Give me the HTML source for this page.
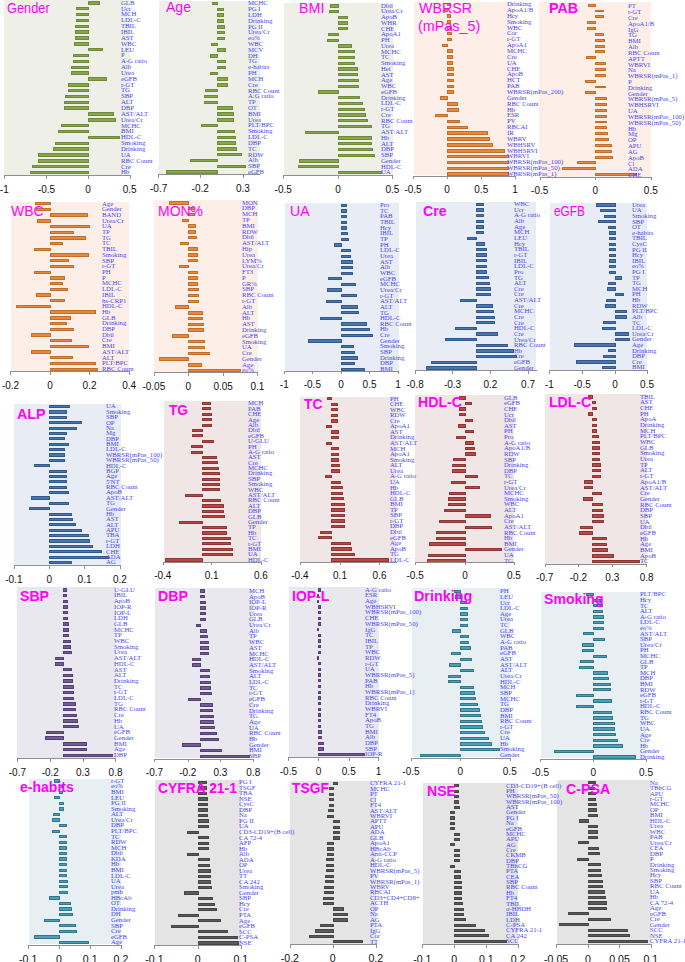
<!DOCTYPE html><html><head><meta charset="utf-8"><style>
html,body{margin:0;padding:0;background:#fff;width:685px;height:962px;overflow:hidden;position:relative}
div{position:absolute;box-sizing:border-box}
.bar{border-radius:0.6px}
.ax{background:#8f8f8f}
.tk{background:#8f8f8f;width:1px}
.tl{font-family:"Liberation Sans",sans-serif;font-size:10px;color:#111;white-space:nowrap;line-height:1;transform:translateX(-50%)}
.lb{font-family:"Liberation Serif",serif;font-size:5.2px;color:#4848f2;white-space:nowrap;line-height:1;transform-origin:0 50%;transform:scaleX(1.3)}
.tt{font-family:"Liberation Sans",sans-serif;font-size:14px;color:#ff00ff;white-space:nowrap;line-height:1;transform-origin:0 0}
.tt.b{font-weight:bold}
</style></head><body>

<div style="left:4.16px;top:0.00px;width:125.85px;height:174.64px;background:#eef0e8"></div>
<div style="left:158.92px;top:1.04px;width:100.89px;height:173.60px;background:#eef0e8"></div>
<div style="left:283.52px;top:3.12px;width:109.21px;height:171.52px;background:#eef0e8"></div>
<div style="left:414.15px;top:2.08px;width:101.10px;height:172.56px;background:#fdeee8"></div>
<div style="left:539.38px;top:2.49px;width:111.71px;height:174.22px;background:#fdeee8"></div>
<div style="left:10.82px;top:201.65px;width:118.57px;height:170.06px;background:#fdeee8"></div>
<div style="left:154.14px;top:200.20px;width:103.60px;height:172.56px;background:#fdeee8"></div>
<div style="left:284.56px;top:202.90px;width:114.00px;height:168.40px;background:#e8ecf4"></div>
<div style="left:415.82px;top:201.65px;width:120.24px;height:169.02px;background:#e8ecf4"></div>
<div style="left:550.20px;top:202.90px;width:96.73px;height:167.36px;background:#e8ecf4"></div>
<div style="left:14.15px;top:404.14px;width:106.51px;height:161.12px;background:#e8ecf4"></div>
<div style="left:163.50px;top:401.43px;width:97.98px;height:160.08px;background:#f1e6e6"></div>
<div style="left:300.16px;top:396.86px;width:96.32px;height:164.66px;background:#f1e6e6"></div>
<div style="left:415.40px;top:394.57px;width:98.81px;height:166.94px;background:#f1e6e6"></div>
<div style="left:545.00px;top:393.74px;width:102.35px;height:169.85px;background:#f1e6e6"></div>
<div style="left:17.06px;top:587.28px;width:98.81px;height:170.48px;background:#eae8ef"></div>
<div style="left:154.76px;top:588.32px;width:98.81px;height:170.06px;background:#eae8ef"></div>
<div style="left:288.72px;top:587.28px;width:90.07px;height:169.44px;background:#eae8ef"></div>
<div style="left:411.66px;top:588.32px;width:98.81px;height:168.81px;background:#e7eff2"></div>
<div style="left:540.84px;top:592.06px;width:105.47px;height:165.70px;background:#e7eff2"></div>
<div style="left:28.50px;top:779.05px;width:92.78px;height:164.86px;background:#e7eff2"></div>
<div style="left:154.76px;top:780.30px;width:86.33px;height:164.24px;background:#e4e4e4"></div>
<div style="left:290.18px;top:781.13px;width:85.91px;height:162.79px;background:#e4e4e4"></div>
<div style="left:423.31px;top:782.79px;width:95.07px;height:161.12px;background:#e4e4e4"></div>
<div style="left:556.86px;top:780.30px;width:94.23px;height:163.62px;background:#e4e4e4"></div>
<div class="bar" style="left:87.91px;top:1.18px;width:11.93px;height:3.45px;background:#88a54b;border:0.7px solid #6d8a36"></div>
<div class="bar" style="left:75.84px;top:7.03px;width:13.07px;height:3.45px;background:#88a54b;border:0.7px solid #6d8a36"></div>
<div class="bar" style="left:75.84px;top:12.88px;width:13.07px;height:3.45px;background:#88a54b;border:0.7px solid #6d8a36"></div>
<div class="bar" style="left:75.84px;top:18.73px;width:13.07px;height:3.45px;background:#88a54b;border:0.7px solid #6d8a36"></div>
<div class="bar" style="left:74.59px;top:24.58px;width:14.32px;height:3.45px;background:#88a54b;border:0.7px solid #6d8a36"></div>
<div class="bar" style="left:74.59px;top:30.43px;width:14.32px;height:3.45px;background:#88a54b;border:0.7px solid #6d8a36"></div>
<div class="bar" style="left:74.59px;top:36.28px;width:14.32px;height:3.45px;background:#88a54b;border:0.7px solid #6d8a36"></div>
<div class="bar" style="left:73.55px;top:42.13px;width:15.36px;height:3.45px;background:#88a54b;border:0.7px solid #6d8a36"></div>
<div class="bar" style="left:87.91px;top:47.98px;width:15.05px;height:3.45px;background:#88a54b;border:0.7px solid #6d8a36"></div>
<div class="bar" style="left:72.51px;top:53.83px;width:16.40px;height:3.45px;background:#88a54b;border:0.7px solid #6d8a36"></div>
<div class="bar" style="left:72.51px;top:59.68px;width:16.40px;height:3.45px;background:#88a54b;border:0.7px solid #6d8a36"></div>
<div class="bar" style="left:71.47px;top:65.53px;width:17.44px;height:3.45px;background:#88a54b;border:0.7px solid #6d8a36"></div>
<div class="bar" style="left:71.47px;top:71.38px;width:17.44px;height:3.45px;background:#88a54b;border:0.7px solid #6d8a36"></div>
<div class="bar" style="left:87.91px;top:77.23px;width:19.41px;height:3.45px;background:#88a54b;border:0.7px solid #6d8a36"></div>
<div class="bar" style="left:67.93px;top:83.08px;width:20.98px;height:3.45px;background:#88a54b;border:0.7px solid #6d8a36"></div>
<div class="bar" style="left:67.93px;top:88.93px;width:20.98px;height:3.45px;background:#88a54b;border:0.7px solid #6d8a36"></div>
<div class="bar" style="left:65.02px;top:94.78px;width:23.89px;height:3.45px;background:#88a54b;border:0.7px solid #6d8a36"></div>
<div class="bar" style="left:63.98px;top:100.63px;width:24.93px;height:3.45px;background:#88a54b;border:0.7px solid #6d8a36"></div>
<div class="bar" style="left:63.98px;top:106.48px;width:24.93px;height:3.45px;background:#88a54b;border:0.7px solid #6d8a36"></div>
<div class="bar" style="left:87.91px;top:112.33px;width:26.49px;height:3.45px;background:#88a54b;border:0.7px solid #6d8a36"></div>
<div class="bar" style="left:87.91px;top:118.18px;width:27.94px;height:3.45px;background:#88a54b;border:0.7px solid #6d8a36"></div>
<div class="bar" style="left:60.65px;top:124.03px;width:28.26px;height:3.45px;background:#88a54b;border:0.7px solid #6d8a36"></div>
<div class="bar" style="left:57.74px;top:129.88px;width:31.17px;height:3.45px;background:#88a54b;border:0.7px solid #6d8a36"></div>
<div class="bar" style="left:87.91px;top:135.73px;width:32.52px;height:3.45px;background:#88a54b;border:0.7px solid #6d8a36"></div>
<div class="bar" style="left:55.45px;top:141.58px;width:33.46px;height:3.45px;background:#88a54b;border:0.7px solid #6d8a36"></div>
<div class="bar" style="left:53.16px;top:147.43px;width:35.75px;height:3.45px;background:#88a54b;border:0.7px solid #6d8a36"></div>
<div class="bar" style="left:38.18px;top:153.28px;width:50.73px;height:3.45px;background:#88a54b;border:0.7px solid #6d8a36"></div>
<div class="bar" style="left:38.18px;top:159.13px;width:50.73px;height:3.45px;background:#88a54b;border:0.7px solid #6d8a36"></div>
<div class="bar" style="left:31.94px;top:164.98px;width:56.97px;height:3.45px;background:#88a54b;border:0.7px solid #6d8a36"></div>
<div class="bar" style="left:29.86px;top:170.83px;width:59.05px;height:3.45px;background:#88a54b;border:0.7px solid #6d8a36"></div>
<div class="bar" style="left:211.67px;top:1.82px;width:6.42px;height:3.43px;background:#88a54b;border:0.7px solid #6d8a36"></div>
<div class="bar" style="left:217.09px;top:7.63px;width:6.72px;height:3.43px;background:#88a54b;border:0.7px solid #6d8a36"></div>
<div class="bar" style="left:217.09px;top:13.45px;width:6.72px;height:3.43px;background:#88a54b;border:0.7px solid #6d8a36"></div>
<div class="bar" style="left:217.09px;top:19.26px;width:6.52px;height:3.43px;background:#88a54b;border:0.7px solid #6d8a36"></div>
<div class="bar" style="left:217.09px;top:25.08px;width:7.76px;height:3.43px;background:#88a54b;border:0.7px solid #6d8a36"></div>
<div class="bar" style="left:217.09px;top:30.89px;width:7.76px;height:3.43px;background:#88a54b;border:0.7px solid #6d8a36"></div>
<div class="bar" style="left:217.09px;top:36.70px;width:7.76px;height:3.43px;background:#88a54b;border:0.7px solid #6d8a36"></div>
<div class="bar" style="left:210.63px;top:42.52px;width:7.46px;height:3.43px;background:#88a54b;border:0.7px solid #6d8a36"></div>
<div class="bar" style="left:217.09px;top:48.33px;width:8.80px;height:3.43px;background:#88a54b;border:0.7px solid #6d8a36"></div>
<div class="bar" style="left:209.59px;top:54.15px;width:8.50px;height:3.43px;background:#88a54b;border:0.7px solid #6d8a36"></div>
<div class="bar" style="left:217.09px;top:59.96px;width:8.80px;height:3.43px;background:#88a54b;border:0.7px solid #6d8a36"></div>
<div class="bar" style="left:217.09px;top:65.77px;width:8.80px;height:3.43px;background:#88a54b;border:0.7px solid #6d8a36"></div>
<div class="bar" style="left:209.59px;top:71.59px;width:8.50px;height:3.43px;background:#88a54b;border:0.7px solid #6d8a36"></div>
<div class="bar" style="left:217.09px;top:77.40px;width:10.89px;height:3.43px;background:#88a54b;border:0.7px solid #6d8a36"></div>
<div class="bar" style="left:217.09px;top:83.22px;width:10.89px;height:3.43px;background:#88a54b;border:0.7px solid #6d8a36"></div>
<div class="bar" style="left:205.43px;top:89.03px;width:12.66px;height:3.43px;background:#88a54b;border:0.7px solid #6d8a36"></div>
<div class="bar" style="left:204.39px;top:94.84px;width:13.70px;height:3.43px;background:#88a54b;border:0.7px solid #6d8a36"></div>
<div class="bar" style="left:204.39px;top:100.66px;width:13.70px;height:3.43px;background:#88a54b;border:0.7px solid #6d8a36"></div>
<div class="bar" style="left:217.09px;top:106.47px;width:16.09px;height:3.43px;background:#88a54b;border:0.7px solid #6d8a36"></div>
<div class="bar" style="left:217.09px;top:112.29px;width:17.13px;height:3.43px;background:#88a54b;border:0.7px solid #6d8a36"></div>
<div class="bar" style="left:217.09px;top:118.10px;width:17.13px;height:3.43px;background:#88a54b;border:0.7px solid #6d8a36"></div>
<div class="bar" style="left:201.27px;top:123.91px;width:16.82px;height:3.43px;background:#88a54b;border:0.7px solid #6d8a36"></div>
<div class="bar" style="left:217.09px;top:129.73px;width:18.17px;height:3.43px;background:#88a54b;border:0.7px solid #6d8a36"></div>
<div class="bar" style="left:217.09px;top:135.54px;width:19.21px;height:3.43px;background:#88a54b;border:0.7px solid #6d8a36"></div>
<div class="bar" style="left:217.09px;top:141.36px;width:19.21px;height:3.43px;background:#88a54b;border:0.7px solid #6d8a36"></div>
<div class="bar" style="left:217.09px;top:147.17px;width:20.25px;height:3.43px;background:#88a54b;border:0.7px solid #6d8a36"></div>
<div class="bar" style="left:217.09px;top:152.98px;width:24.82px;height:3.43px;background:#88a54b;border:0.7px solid #6d8a36"></div>
<div class="bar" style="left:190.24px;top:158.80px;width:27.84px;height:3.43px;background:#88a54b;border:0.7px solid #6d8a36"></div>
<div class="bar" style="left:217.09px;top:164.61px;width:28.98px;height:3.43px;background:#88a54b;border:0.7px solid #6d8a36"></div>
<div class="bar" style="left:165.90px;top:170.43px;width:52.18px;height:3.43px;background:#88a54b;border:0.7px solid #6d8a36"></div>
<div class="bar" style="left:330.44px;top:4.13px;width:8.29px;height:3.39px;background:#88a54b;border:0.7px solid #6d8a36"></div>
<div class="bar" style="left:329.40px;top:9.87px;width:9.33px;height:3.39px;background:#88a54b;border:0.7px solid #6d8a36"></div>
<div class="bar" style="left:337.73px;top:15.62px;width:10.05px;height:3.39px;background:#88a54b;border:0.7px solid #6d8a36"></div>
<div class="bar" style="left:337.73px;top:21.37px;width:10.05px;height:3.39px;background:#88a54b;border:0.7px solid #6d8a36"></div>
<div class="bar" style="left:337.73px;top:27.12px;width:10.05px;height:3.39px;background:#88a54b;border:0.7px solid #6d8a36"></div>
<div class="bar" style="left:328.15px;top:32.87px;width:10.58px;height:3.39px;background:#88a54b;border:0.7px solid #6d8a36"></div>
<div class="bar" style="left:327.11px;top:38.62px;width:11.62px;height:3.39px;background:#88a54b;border:0.7px solid #6d8a36"></div>
<div class="bar" style="left:337.73px;top:44.37px;width:14.21px;height:3.39px;background:#88a54b;border:0.7px solid #6d8a36"></div>
<div class="bar" style="left:337.73px;top:50.12px;width:17.33px;height:3.39px;background:#88a54b;border:0.7px solid #6d8a36"></div>
<div class="bar" style="left:337.73px;top:55.87px;width:17.33px;height:3.39px;background:#88a54b;border:0.7px solid #6d8a36"></div>
<div class="bar" style="left:337.73px;top:61.62px;width:17.33px;height:3.39px;background:#88a54b;border:0.7px solid #6d8a36"></div>
<div class="bar" style="left:337.73px;top:67.37px;width:20.45px;height:3.39px;background:#88a54b;border:0.7px solid #6d8a36"></div>
<div class="bar" style="left:337.73px;top:73.12px;width:20.45px;height:3.39px;background:#88a54b;border:0.7px solid #6d8a36"></div>
<div class="bar" style="left:337.73px;top:78.87px;width:21.70px;height:3.39px;background:#88a54b;border:0.7px solid #6d8a36"></div>
<div class="bar" style="left:337.73px;top:84.62px;width:21.70px;height:3.39px;background:#88a54b;border:0.7px solid #6d8a36"></div>
<div class="bar" style="left:317.55px;top:90.37px;width:21.19px;height:3.39px;background:#88a54b;border:0.7px solid #6d8a36"></div>
<div class="bar" style="left:337.73px;top:96.12px;width:22.53px;height:3.39px;background:#88a54b;border:0.7px solid #6d8a36"></div>
<div class="bar" style="left:337.73px;top:101.87px;width:24.82px;height:3.39px;background:#88a54b;border:0.7px solid #6d8a36"></div>
<div class="bar" style="left:337.73px;top:107.62px;width:26.90px;height:3.39px;background:#88a54b;border:0.7px solid #6d8a36"></div>
<div class="bar" style="left:337.73px;top:113.37px;width:27.94px;height:3.39px;background:#88a54b;border:0.7px solid #6d8a36"></div>
<div class="bar" style="left:337.73px;top:119.12px;width:30.02px;height:3.39px;background:#88a54b;border:0.7px solid #6d8a36"></div>
<div class="bar" style="left:337.73px;top:124.86px;width:34.18px;height:3.39px;background:#88a54b;border:0.7px solid #6d8a36"></div>
<div class="bar" style="left:304.65px;top:130.61px;width:34.08px;height:3.39px;background:#88a54b;border:0.7px solid #6d8a36"></div>
<div class="bar" style="left:337.73px;top:136.36px;width:34.18px;height:3.39px;background:#88a54b;border:0.7px solid #6d8a36"></div>
<div class="bar" style="left:337.73px;top:142.11px;width:34.18px;height:3.39px;background:#88a54b;border:0.7px solid #6d8a36"></div>
<div class="bar" style="left:337.73px;top:147.86px;width:35.22px;height:3.39px;background:#88a54b;border:0.7px solid #6d8a36"></div>
<div class="bar" style="left:337.73px;top:153.61px;width:37.30px;height:3.39px;background:#88a54b;border:0.7px solid #6d8a36"></div>
<div class="bar" style="left:299.24px;top:159.36px;width:39.49px;height:3.39px;background:#88a54b;border:0.7px solid #6d8a36"></div>
<div class="bar" style="left:298.20px;top:165.11px;width:40.53px;height:3.39px;background:#88a54b;border:0.7px solid #6d8a36"></div>
<div class="bar" style="left:337.73px;top:170.86px;width:43.96px;height:3.39px;background:#88a54b;border:0.7px solid #6d8a36"></div>
<div class="bar" style="left:446.73px;top:2.64px;width:4.02px;height:3.46px;background:#e8883c;border:0.7px solid #c46d26"></div>
<div class="bar" style="left:444.22px;top:8.50px;width:3.50px;height:3.46px;background:#e8883c;border:0.7px solid #c46d26"></div>
<div class="bar" style="left:446.73px;top:14.35px;width:4.44px;height:3.46px;background:#e8883c;border:0.7px solid #c46d26"></div>
<div class="bar" style="left:446.73px;top:20.21px;width:4.44px;height:3.46px;background:#e8883c;border:0.7px solid #c46d26"></div>
<div class="bar" style="left:446.73px;top:26.07px;width:4.85px;height:3.46px;background:#e8883c;border:0.7px solid #c46d26"></div>
<div class="bar" style="left:446.73px;top:31.92px;width:5.48px;height:3.46px;background:#e8883c;border:0.7px solid #c46d26"></div>
<div class="bar" style="left:446.73px;top:37.78px;width:5.48px;height:3.46px;background:#e8883c;border:0.7px solid #c46d26"></div>
<div class="bar" style="left:442.14px;top:43.64px;width:5.58px;height:3.46px;background:#e8883c;border:0.7px solid #c46d26"></div>
<div class="bar" style="left:446.73px;top:49.49px;width:6.52px;height:3.46px;background:#e8883c;border:0.7px solid #c46d26"></div>
<div class="bar" style="left:446.73px;top:55.35px;width:6.52px;height:3.46px;background:#e8883c;border:0.7px solid #c46d26"></div>
<div class="bar" style="left:446.73px;top:61.21px;width:6.52px;height:3.46px;background:#e8883c;border:0.7px solid #c46d26"></div>
<div class="bar" style="left:446.73px;top:67.07px;width:6.93px;height:3.46px;background:#e8883c;border:0.7px solid #c46d26"></div>
<div class="bar" style="left:446.73px;top:72.92px;width:7.56px;height:3.46px;background:#e8883c;border:0.7px solid #c46d26"></div>
<div class="bar" style="left:446.73px;top:78.78px;width:7.56px;height:3.46px;background:#e8883c;border:0.7px solid #c46d26"></div>
<div class="bar" style="left:446.73px;top:84.64px;width:7.56px;height:3.46px;background:#e8883c;border:0.7px solid #c46d26"></div>
<div class="bar" style="left:446.73px;top:90.49px;width:7.56px;height:3.46px;background:#e8883c;border:0.7px solid #c46d26"></div>
<div class="bar" style="left:440.06px;top:96.35px;width:7.66px;height:3.46px;background:#e8883c;border:0.7px solid #c46d26"></div>
<div class="bar" style="left:446.73px;top:102.21px;width:11.09px;height:3.46px;background:#e8883c;border:0.7px solid #c46d26"></div>
<div class="bar" style="left:446.73px;top:108.06px;width:12.13px;height:3.46px;background:#e8883c;border:0.7px solid #c46d26"></div>
<div class="bar" style="left:434.86px;top:113.92px;width:12.87px;height:3.46px;background:#e8883c;border:0.7px solid #c46d26"></div>
<div class="bar" style="left:446.73px;top:119.78px;width:13.17px;height:3.46px;background:#e8883c;border:0.7px solid #c46d26"></div>
<div class="bar" style="left:446.73px;top:125.64px;width:21.49px;height:3.46px;background:#e8883c;border:0.7px solid #c46d26"></div>
<div class="bar" style="left:446.73px;top:131.49px;width:40.84px;height:3.46px;background:#e8883c;border:0.7px solid #c46d26"></div>
<div class="bar" style="left:446.73px;top:137.35px;width:42.92px;height:3.46px;background:#e8883c;border:0.7px solid #c46d26"></div>
<div class="bar" style="left:446.73px;top:143.21px;width:46.46px;height:3.46px;background:#e8883c;border:0.7px solid #c46d26"></div>
<div class="bar" style="left:446.73px;top:149.06px;width:58.11px;height:3.46px;background:#e8883c;border:0.7px solid #c46d26"></div>
<div class="bar" style="left:446.73px;top:154.92px;width:62.27px;height:3.46px;background:#e8883c;border:0.7px solid #c46d26"></div>
<div class="bar" style="left:446.73px;top:160.78px;width:62.27px;height:3.46px;background:#e8883c;border:0.7px solid #c46d26"></div>
<div class="bar" style="left:446.73px;top:166.64px;width:62.27px;height:3.46px;background:#e8883c;border:0.7px solid #c46d26"></div>
<div class="bar" style="left:446.73px;top:172.49px;width:62.27px;height:3.46px;background:#e8883c;border:0.7px solid #c46d26"></div>
<div class="bar" style="left:587.97px;top:3.74px;width:8.08px;height:2.92px;background:#e8883c;border:0.7px solid #c46d26"></div>
<div class="bar" style="left:595.05px;top:9.58px;width:9.01px;height:2.92px;background:#e8883c;border:0.7px solid #c46d26"></div>
<div class="bar" style="left:595.05px;top:15.42px;width:9.01px;height:2.92px;background:#e8883c;border:0.7px solid #c46d26"></div>
<div class="bar" style="left:586.93px;top:21.26px;width:9.12px;height:2.92px;background:#e8883c;border:0.7px solid #c46d26"></div>
<div class="bar" style="left:586.93px;top:27.11px;width:9.12px;height:2.92px;background:#e8883c;border:0.7px solid #c46d26"></div>
<div class="bar" style="left:595.05px;top:32.95px;width:9.01px;height:2.92px;background:#e8883c;border:0.7px solid #c46d26"></div>
<div class="bar" style="left:595.05px;top:38.79px;width:10.05px;height:2.92px;background:#e8883c;border:0.7px solid #c46d26"></div>
<div class="bar" style="left:595.05px;top:44.64px;width:10.05px;height:2.92px;background:#e8883c;border:0.7px solid #c46d26"></div>
<div class="bar" style="left:595.05px;top:50.48px;width:10.05px;height:2.92px;background:#e8883c;border:0.7px solid #c46d26"></div>
<div class="bar" style="left:585.89px;top:56.32px;width:10.16px;height:2.92px;background:#e8883c;border:0.7px solid #c46d26"></div>
<div class="bar" style="left:595.05px;top:62.16px;width:11.09px;height:2.92px;background:#e8883c;border:0.7px solid #c46d26"></div>
<div class="bar" style="left:595.05px;top:68.01px;width:11.09px;height:2.92px;background:#e8883c;border:0.7px solid #c46d26"></div>
<div class="bar" style="left:595.05px;top:73.85px;width:11.09px;height:2.92px;background:#e8883c;border:0.7px solid #c46d26"></div>
<div class="bar" style="left:584.85px;top:79.69px;width:11.20px;height:2.92px;background:#e8883c;border:0.7px solid #c46d26"></div>
<div class="bar" style="left:595.05px;top:85.53px;width:11.09px;height:2.92px;background:#e8883c;border:0.7px solid #c46d26"></div>
<div class="bar" style="left:584.85px;top:91.38px;width:11.20px;height:2.92px;background:#e8883c;border:0.7px solid #c46d26"></div>
<div class="bar" style="left:595.05px;top:97.22px;width:12.13px;height:2.92px;background:#e8883c;border:0.7px solid #c46d26"></div>
<div class="bar" style="left:595.05px;top:103.06px;width:12.13px;height:2.92px;background:#e8883c;border:0.7px solid #c46d26"></div>
<div class="bar" style="left:595.05px;top:108.91px;width:12.13px;height:2.92px;background:#e8883c;border:0.7px solid #c46d26"></div>
<div class="bar" style="left:595.05px;top:114.75px;width:12.13px;height:2.92px;background:#e8883c;border:0.7px solid #c46d26"></div>
<div class="bar" style="left:595.05px;top:120.59px;width:12.13px;height:2.92px;background:#e8883c;border:0.7px solid #c46d26"></div>
<div class="bar" style="left:595.05px;top:126.43px;width:12.13px;height:2.92px;background:#e8883c;border:0.7px solid #c46d26"></div>
<div class="bar" style="left:595.05px;top:132.28px;width:13.17px;height:2.92px;background:#e8883c;border:0.7px solid #c46d26"></div>
<div class="bar" style="left:595.05px;top:138.12px;width:14.21px;height:2.92px;background:#e8883c;border:0.7px solid #c46d26"></div>
<div class="bar" style="left:595.05px;top:143.96px;width:16.50px;height:2.92px;background:#e8883c;border:0.7px solid #c46d26"></div>
<div class="bar" style="left:595.05px;top:149.80px;width:16.50px;height:2.92px;background:#e8883c;border:0.7px solid #c46d26"></div>
<div class="bar" style="left:595.05px;top:155.65px;width:17.54px;height:2.92px;background:#e8883c;border:0.7px solid #c46d26"></div>
<div class="bar" style="left:576.94px;top:161.49px;width:19.11px;height:2.92px;background:#e8883c;border:0.7px solid #c46d26"></div>
<div class="bar" style="left:562.38px;top:167.33px;width:33.67px;height:2.92px;background:#e8883c;border:0.7px solid #c46d26"></div>
<div class="bar" style="left:595.05px;top:173.18px;width:41.88px;height:2.92px;background:#e8883c;border:0.7px solid #c46d26"></div>
<div class="bar" style="left:35.06px;top:202.05px;width:15.78px;height:3.37px;background:#e8883c;border:0.7px solid #c46d26"></div>
<div class="bar" style="left:36.10px;top:207.75px;width:14.74px;height:3.37px;background:#e8883c;border:0.7px solid #c46d26"></div>
<div class="bar" style="left:49.84px;top:213.46px;width:37.93px;height:3.37px;background:#e8883c;border:0.7px solid #c46d26"></div>
<div class="bar" style="left:37.14px;top:219.17px;width:13.70px;height:3.37px;background:#e8883c;border:0.7px solid #c46d26"></div>
<div class="bar" style="left:49.84px;top:224.87px;width:40.42px;height:3.37px;background:#e8883c;border:0.7px solid #c46d26"></div>
<div class="bar" style="left:49.84px;top:230.58px;width:24.41px;height:3.37px;background:#e8883c;border:0.7px solid #c46d26"></div>
<div class="bar" style="left:49.84px;top:236.29px;width:35.85px;height:3.37px;background:#e8883c;border:0.7px solid #c46d26"></div>
<div class="bar" style="left:49.84px;top:241.99px;width:13.38px;height:3.37px;background:#e8883c;border:0.7px solid #c46d26"></div>
<div class="bar" style="left:34.02px;top:247.70px;width:16.82px;height:3.37px;background:#e8883c;border:0.7px solid #c46d26"></div>
<div class="bar" style="left:49.84px;top:253.41px;width:39.38px;height:3.37px;background:#e8883c;border:0.7px solid #c46d26"></div>
<div class="bar" style="left:49.84px;top:259.11px;width:19.62px;height:3.37px;background:#e8883c;border:0.7px solid #c46d26"></div>
<div class="bar" style="left:49.84px;top:264.82px;width:24.41px;height:3.37px;background:#e8883c;border:0.7px solid #c46d26"></div>
<div class="bar" style="left:34.02px;top:270.53px;width:16.82px;height:3.37px;background:#e8883c;border:0.7px solid #c46d26"></div>
<div class="bar" style="left:49.84px;top:276.23px;width:15.46px;height:3.37px;background:#e8883c;border:0.7px solid #c46d26"></div>
<div class="bar" style="left:49.84px;top:281.94px;width:13.38px;height:3.37px;background:#e8883c;border:0.7px solid #c46d26"></div>
<div class="bar" style="left:49.84px;top:287.65px;width:18.58px;height:3.37px;background:#e8883c;border:0.7px solid #c46d26"></div>
<div class="bar" style="left:36.10px;top:293.35px;width:14.74px;height:3.37px;background:#e8883c;border:0.7px solid #c46d26"></div>
<div class="bar" style="left:49.84px;top:299.06px;width:15.46px;height:3.37px;background:#e8883c;border:0.7px solid #c46d26"></div>
<div class="bar" style="left:15.93px;top:304.77px;width:34.92px;height:3.37px;background:#e8883c;border:0.7px solid #c46d26"></div>
<div class="bar" style="left:49.84px;top:310.47px;width:46.67px;height:3.37px;background:#e8883c;border:0.7px solid #c46d26"></div>
<div class="bar" style="left:49.84px;top:316.18px;width:20.87px;height:3.37px;background:#e8883c;border:0.7px solid #c46d26"></div>
<div class="bar" style="left:49.84px;top:321.88px;width:17.54px;height:3.37px;background:#e8883c;border:0.7px solid #c46d26"></div>
<div class="bar" style="left:49.84px;top:327.59px;width:24.41px;height:3.37px;background:#e8883c;border:0.7px solid #c46d26"></div>
<div class="bar" style="left:30.90px;top:333.30px;width:19.94px;height:3.37px;background:#e8883c;border:0.7px solid #c46d26"></div>
<div class="bar" style="left:49.84px;top:339.00px;width:22.33px;height:3.37px;background:#e8883c;border:0.7px solid #c46d26"></div>
<div class="bar" style="left:49.84px;top:344.71px;width:39.38px;height:3.37px;background:#e8883c;border:0.7px solid #c46d26"></div>
<div class="bar" style="left:30.90px;top:350.42px;width:19.94px;height:3.37px;background:#e8883c;border:0.7px solid #c46d26"></div>
<div class="bar" style="left:49.84px;top:356.12px;width:23.37px;height:3.37px;background:#e8883c;border:0.7px solid #c46d26"></div>
<div class="bar" style="left:49.84px;top:361.83px;width:46.67px;height:3.37px;background:#e8883c;border:0.7px solid #c46d26"></div>
<div class="bar" style="left:49.84px;top:367.54px;width:48.33px;height:3.37px;background:#e8883c;border:0.7px solid #c46d26"></div>
<div class="bar" style="left:169.02px;top:201.19px;width:20.15px;height:3.41px;background:#e8883c;border:0.7px solid #c46d26"></div>
<div class="bar" style="left:188.17px;top:206.98px;width:6.52px;height:3.41px;background:#e8883c;border:0.7px solid #c46d26"></div>
<div class="bar" style="left:188.17px;top:212.76px;width:6.52px;height:3.41px;background:#e8883c;border:0.7px solid #c46d26"></div>
<div class="bar" style="left:181.51px;top:218.55px;width:7.66px;height:3.41px;background:#e8883c;border:0.7px solid #c46d26"></div>
<div class="bar" style="left:188.17px;top:224.33px;width:7.56px;height:3.41px;background:#e8883c;border:0.7px solid #c46d26"></div>
<div class="bar" style="left:188.17px;top:230.12px;width:7.56px;height:3.41px;background:#e8883c;border:0.7px solid #c46d26"></div>
<div class="bar" style="left:188.17px;top:235.91px;width:8.60px;height:3.41px;background:#e8883c;border:0.7px solid #c46d26"></div>
<div class="bar" style="left:180.47px;top:241.69px;width:8.70px;height:3.41px;background:#e8883c;border:0.7px solid #c46d26"></div>
<div class="bar" style="left:188.17px;top:247.48px;width:9.64px;height:3.41px;background:#e8883c;border:0.7px solid #c46d26"></div>
<div class="bar" style="left:188.17px;top:253.26px;width:9.64px;height:3.41px;background:#e8883c;border:0.7px solid #c46d26"></div>
<div class="bar" style="left:188.17px;top:259.05px;width:9.64px;height:3.41px;background:#e8883c;border:0.7px solid #c46d26"></div>
<div class="bar" style="left:179.43px;top:264.83px;width:9.75px;height:3.41px;background:#e8883c;border:0.7px solid #c46d26"></div>
<div class="bar" style="left:188.17px;top:270.62px;width:9.64px;height:3.41px;background:#e8883c;border:0.7px solid #c46d26"></div>
<div class="bar" style="left:188.17px;top:276.40px;width:9.64px;height:3.41px;background:#e8883c;border:0.7px solid #c46d26"></div>
<div class="bar" style="left:188.17px;top:282.19px;width:9.64px;height:3.41px;background:#e8883c;border:0.7px solid #c46d26"></div>
<div class="bar" style="left:188.17px;top:287.97px;width:10.68px;height:3.41px;background:#e8883c;border:0.7px solid #c46d26"></div>
<div class="bar" style="left:188.17px;top:293.76px;width:10.68px;height:3.41px;background:#e8883c;border:0.7px solid #c46d26"></div>
<div class="bar" style="left:188.17px;top:299.54px;width:10.68px;height:3.41px;background:#e8883c;border:0.7px solid #c46d26"></div>
<div class="bar" style="left:175.26px;top:305.33px;width:13.91px;height:3.41px;background:#e8883c;border:0.7px solid #c46d26"></div>
<div class="bar" style="left:188.17px;top:311.12px;width:14.84px;height:3.41px;background:#e8883c;border:0.7px solid #c46d26"></div>
<div class="bar" style="left:188.17px;top:316.90px;width:14.84px;height:3.41px;background:#e8883c;border:0.7px solid #c46d26"></div>
<div class="bar" style="left:188.17px;top:322.69px;width:15.88px;height:3.41px;background:#e8883c;border:0.7px solid #c46d26"></div>
<div class="bar" style="left:188.17px;top:328.47px;width:15.88px;height:3.41px;background:#e8883c;border:0.7px solid #c46d26"></div>
<div class="bar" style="left:172.14px;top:334.26px;width:17.03px;height:3.41px;background:#e8883c;border:0.7px solid #c46d26"></div>
<div class="bar" style="left:188.17px;top:340.04px;width:16.92px;height:3.41px;background:#e8883c;border:0.7px solid #c46d26"></div>
<div class="bar" style="left:188.17px;top:345.83px;width:16.92px;height:3.41px;background:#e8883c;border:0.7px solid #c46d26"></div>
<div class="bar" style="left:188.17px;top:351.61px;width:21.49px;height:3.41px;background:#e8883c;border:0.7px solid #c46d26"></div>
<div class="bar" style="left:159.04px;top:357.40px;width:30.13px;height:3.41px;background:#e8883c;border:0.7px solid #c46d26"></div>
<div class="bar" style="left:188.17px;top:363.18px;width:13.80px;height:3.41px;background:#e8883c;border:0.7px solid #c46d26"></div>
<div class="bar" style="left:188.17px;top:368.97px;width:53.32px;height:3.41px;background:#e8883c;border:0.7px solid #c46d26"></div>
<div class="bar" style="left:340.85px;top:203.73px;width:6.52px;height:3.33px;background:#4a76ad;border:0.7px solid #30588a"></div>
<div class="bar" style="left:340.85px;top:209.38px;width:6.52px;height:3.33px;background:#4a76ad;border:0.7px solid #30588a"></div>
<div class="bar" style="left:340.85px;top:215.03px;width:6.52px;height:3.33px;background:#4a76ad;border:0.7px solid #30588a"></div>
<div class="bar" style="left:340.85px;top:220.68px;width:6.52px;height:3.33px;background:#4a76ad;border:0.7px solid #30588a"></div>
<div class="bar" style="left:340.85px;top:226.33px;width:6.52px;height:3.33px;background:#4a76ad;border:0.7px solid #30588a"></div>
<div class="bar" style="left:340.85px;top:231.97px;width:7.56px;height:3.33px;background:#4a76ad;border:0.7px solid #30588a"></div>
<div class="bar" style="left:340.85px;top:237.62px;width:8.60px;height:3.33px;background:#4a76ad;border:0.7px solid #30588a"></div>
<div class="bar" style="left:333.56px;top:243.27px;width:8.29px;height:3.33px;background:#4a76ad;border:0.7px solid #30588a"></div>
<div class="bar" style="left:340.85px;top:248.92px;width:10.05px;height:3.33px;background:#4a76ad;border:0.7px solid #30588a"></div>
<div class="bar" style="left:340.85px;top:254.57px;width:10.05px;height:3.33px;background:#4a76ad;border:0.7px solid #30588a"></div>
<div class="bar" style="left:340.85px;top:260.22px;width:12.13px;height:3.33px;background:#4a76ad;border:0.7px solid #30588a"></div>
<div class="bar" style="left:340.85px;top:265.87px;width:12.13px;height:3.33px;background:#4a76ad;border:0.7px solid #30588a"></div>
<div class="bar" style="left:340.85px;top:271.52px;width:12.13px;height:3.33px;background:#4a76ad;border:0.7px solid #30588a"></div>
<div class="bar" style="left:327.95px;top:277.17px;width:13.91px;height:3.33px;background:#4a76ad;border:0.7px solid #30588a"></div>
<div class="bar" style="left:340.85px;top:282.82px;width:15.25px;height:3.33px;background:#4a76ad;border:0.7px solid #30588a"></div>
<div class="bar" style="left:326.91px;top:288.47px;width:14.95px;height:3.33px;background:#4a76ad;border:0.7px solid #30588a"></div>
<div class="bar" style="left:340.85px;top:294.11px;width:16.29px;height:3.33px;background:#4a76ad;border:0.7px solid #30588a"></div>
<div class="bar" style="left:325.87px;top:299.76px;width:15.99px;height:3.33px;background:#4a76ad;border:0.7px solid #30588a"></div>
<div class="bar" style="left:340.85px;top:305.41px;width:17.33px;height:3.33px;background:#4a76ad;border:0.7px solid #30588a"></div>
<div class="bar" style="left:340.85px;top:311.06px;width:18.37px;height:3.33px;background:#4a76ad;border:0.7px solid #30588a"></div>
<div class="bar" style="left:319.63px;top:316.71px;width:22.23px;height:3.33px;background:#4a76ad;border:0.7px solid #30588a"></div>
<div class="bar" style="left:340.85px;top:322.36px;width:25.86px;height:3.33px;background:#4a76ad;border:0.7px solid #30588a"></div>
<div class="bar" style="left:340.85px;top:328.01px;width:29.40px;height:3.33px;background:#4a76ad;border:0.7px solid #30588a"></div>
<div class="bar" style="left:340.85px;top:333.66px;width:32.10px;height:3.33px;background:#4a76ad;border:0.7px solid #30588a"></div>
<div class="bar" style="left:307.77px;top:339.31px;width:34.08px;height:3.33px;background:#4a76ad;border:0.7px solid #30588a"></div>
<div class="bar" style="left:340.85px;top:344.96px;width:13.17px;height:3.33px;background:#4a76ad;border:0.7px solid #30588a"></div>
<div class="bar" style="left:340.85px;top:350.61px;width:14.21px;height:3.33px;background:#4a76ad;border:0.7px solid #30588a"></div>
<div class="bar" style="left:340.85px;top:356.26px;width:17.33px;height:3.33px;background:#4a76ad;border:0.7px solid #30588a"></div>
<div class="bar" style="left:340.85px;top:361.90px;width:14.21px;height:3.33px;background:#4a76ad;border:0.7px solid #30588a"></div>
<div class="bar" style="left:340.85px;top:367.55px;width:23.78px;height:3.33px;background:#4a76ad;border:0.7px solid #30588a"></div>
<div class="bar" style="left:475.85px;top:202.69px;width:8.60px;height:3.33px;background:#4a76ad;border:0.7px solid #30588a"></div>
<div class="bar" style="left:475.85px;top:208.33px;width:8.60px;height:3.33px;background:#4a76ad;border:0.7px solid #30588a"></div>
<div class="bar" style="left:475.85px;top:213.98px;width:8.60px;height:3.33px;background:#4a76ad;border:0.7px solid #30588a"></div>
<div class="bar" style="left:475.85px;top:219.62px;width:8.60px;height:3.33px;background:#4a76ad;border:0.7px solid #30588a"></div>
<div class="bar" style="left:475.85px;top:225.26px;width:8.60px;height:3.33px;background:#4a76ad;border:0.7px solid #30588a"></div>
<div class="bar" style="left:475.85px;top:230.90px;width:8.60px;height:3.33px;background:#4a76ad;border:0.7px solid #30588a"></div>
<div class="bar" style="left:467.11px;top:236.54px;width:9.75px;height:3.33px;background:#4a76ad;border:0.7px solid #30588a"></div>
<div class="bar" style="left:475.85px;top:242.18px;width:9.64px;height:3.33px;background:#4a76ad;border:0.7px solid #30588a"></div>
<div class="bar" style="left:475.85px;top:247.83px;width:10.68px;height:3.33px;background:#4a76ad;border:0.7px solid #30588a"></div>
<div class="bar" style="left:475.85px;top:253.47px;width:10.68px;height:3.33px;background:#4a76ad;border:0.7px solid #30588a"></div>
<div class="bar" style="left:475.85px;top:259.11px;width:10.68px;height:3.33px;background:#4a76ad;border:0.7px solid #30588a"></div>
<div class="bar" style="left:475.85px;top:264.75px;width:10.68px;height:3.33px;background:#4a76ad;border:0.7px solid #30588a"></div>
<div class="bar" style="left:475.85px;top:270.39px;width:10.68px;height:3.33px;background:#4a76ad;border:0.7px solid #30588a"></div>
<div class="bar" style="left:475.85px;top:276.04px;width:12.76px;height:3.33px;background:#4a76ad;border:0.7px solid #30588a"></div>
<div class="bar" style="left:475.85px;top:281.68px;width:13.80px;height:3.33px;background:#4a76ad;border:0.7px solid #30588a"></div>
<div class="bar" style="left:475.85px;top:287.32px;width:14.84px;height:3.33px;background:#4a76ad;border:0.7px solid #30588a"></div>
<div class="bar" style="left:475.85px;top:292.96px;width:14.84px;height:3.33px;background:#4a76ad;border:0.7px solid #30588a"></div>
<div class="bar" style="left:459.83px;top:298.60px;width:17.03px;height:3.33px;background:#4a76ad;border:0.7px solid #30588a"></div>
<div class="bar" style="left:475.85px;top:304.25px;width:16.92px;height:3.33px;background:#4a76ad;border:0.7px solid #30588a"></div>
<div class="bar" style="left:475.85px;top:309.89px;width:18.37px;height:3.33px;background:#4a76ad;border:0.7px solid #30588a"></div>
<div class="bar" style="left:475.85px;top:315.53px;width:19.41px;height:3.33px;background:#4a76ad;border:0.7px solid #30588a"></div>
<div class="bar" style="left:475.85px;top:321.17px;width:19.41px;height:3.33px;background:#4a76ad;border:0.7px solid #30588a"></div>
<div class="bar" style="left:455.25px;top:326.81px;width:21.60px;height:3.33px;background:#4a76ad;border:0.7px solid #30588a"></div>
<div class="bar" style="left:475.85px;top:332.46px;width:22.53px;height:3.33px;background:#4a76ad;border:0.7px solid #30588a"></div>
<div class="bar" style="left:444.85px;top:338.10px;width:32.00px;height:3.33px;background:#4a76ad;border:0.7px solid #30588a"></div>
<div class="bar" style="left:475.85px;top:343.74px;width:31.90px;height:3.33px;background:#4a76ad;border:0.7px solid #30588a"></div>
<div class="bar" style="left:475.85px;top:349.38px;width:38.14px;height:3.33px;background:#4a76ad;border:0.7px solid #30588a"></div>
<div class="bar" style="left:475.85px;top:355.02px;width:40.84px;height:3.33px;background:#4a76ad;border:0.7px solid #30588a"></div>
<div class="bar" style="left:431.12px;top:360.67px;width:45.73px;height:3.33px;background:#4a76ad;border:0.7px solid #30588a"></div>
<div class="bar" style="left:425.50px;top:366.31px;width:51.35px;height:3.33px;background:#4a76ad;border:0.7px solid #30588a"></div>
<div class="bar" style="left:596.29px;top:203.33px;width:19.52px;height:3.31px;background:#4a76ad;border:0.7px solid #30588a"></div>
<div class="bar" style="left:599.83px;top:208.93px;width:15.99px;height:3.31px;background:#4a76ad;border:0.7px solid #30588a"></div>
<div class="bar" style="left:603.99px;top:214.54px;width:11.83px;height:3.31px;background:#4a76ad;border:0.7px solid #30588a"></div>
<div class="bar" style="left:597.75px;top:220.14px;width:18.07px;height:3.31px;background:#4a76ad;border:0.7px solid #30588a"></div>
<div class="bar" style="left:608.15px;top:225.75px;width:7.66px;height:3.31px;background:#4a76ad;border:0.7px solid #30588a"></div>
<div class="bar" style="left:609.19px;top:231.36px;width:6.62px;height:3.31px;background:#4a76ad;border:0.7px solid #30588a"></div>
<div class="bar" style="left:609.19px;top:236.96px;width:6.62px;height:3.31px;background:#4a76ad;border:0.7px solid #30588a"></div>
<div class="bar" style="left:609.19px;top:242.57px;width:6.62px;height:3.31px;background:#4a76ad;border:0.7px solid #30588a"></div>
<div class="bar" style="left:609.19px;top:248.17px;width:6.62px;height:3.31px;background:#4a76ad;border:0.7px solid #30588a"></div>
<div class="bar" style="left:609.19px;top:253.78px;width:6.62px;height:3.31px;background:#4a76ad;border:0.7px solid #30588a"></div>
<div class="bar" style="left:609.19px;top:259.39px;width:6.62px;height:3.31px;background:#4a76ad;border:0.7px solid #30588a"></div>
<div class="bar" style="left:609.19px;top:264.99px;width:6.62px;height:3.31px;background:#4a76ad;border:0.7px solid #30588a"></div>
<div class="bar" style="left:609.19px;top:270.60px;width:6.62px;height:3.31px;background:#4a76ad;border:0.7px solid #30588a"></div>
<div class="bar" style="left:614.81px;top:276.21px;width:7.56px;height:3.31px;background:#4a76ad;border:0.7px solid #30588a"></div>
<div class="bar" style="left:608.15px;top:281.81px;width:7.66px;height:3.31px;background:#4a76ad;border:0.7px solid #30588a"></div>
<div class="bar" style="left:607.11px;top:287.42px;width:8.70px;height:3.31px;background:#4a76ad;border:0.7px solid #30588a"></div>
<div class="bar" style="left:614.81px;top:293.02px;width:9.64px;height:3.31px;background:#4a76ad;border:0.7px solid #30588a"></div>
<div class="bar" style="left:606.07px;top:298.63px;width:9.75px;height:3.31px;background:#4a76ad;border:0.7px solid #30588a"></div>
<div class="bar" style="left:605.03px;top:304.24px;width:10.79px;height:3.31px;background:#4a76ad;border:0.7px solid #30588a"></div>
<div class="bar" style="left:614.81px;top:309.84px;width:11.72px;height:3.31px;background:#4a76ad;border:0.7px solid #30588a"></div>
<div class="bar" style="left:614.81px;top:315.45px;width:11.72px;height:3.31px;background:#4a76ad;border:0.7px solid #30588a"></div>
<div class="bar" style="left:602.95px;top:321.05px;width:12.87px;height:3.31px;background:#4a76ad;border:0.7px solid #30588a"></div>
<div class="bar" style="left:601.91px;top:326.66px;width:13.91px;height:3.31px;background:#4a76ad;border:0.7px solid #30588a"></div>
<div class="bar" style="left:614.81px;top:332.27px;width:14.21px;height:3.31px;background:#4a76ad;border:0.7px solid #30588a"></div>
<div class="bar" style="left:614.81px;top:337.87px;width:15.25px;height:3.31px;background:#4a76ad;border:0.7px solid #30588a"></div>
<div class="bar" style="left:573.82px;top:343.48px;width:41.99px;height:3.31px;background:#4a76ad;border:0.7px solid #30588a"></div>
<div class="bar" style="left:608.15px;top:349.08px;width:7.66px;height:3.31px;background:#4a76ad;border:0.7px solid #30588a"></div>
<div class="bar" style="left:602.95px;top:354.69px;width:12.87px;height:3.31px;background:#4a76ad;border:0.7px solid #30588a"></div>
<div class="bar" style="left:575.90px;top:360.30px;width:39.91px;height:3.31px;background:#4a76ad;border:0.7px solid #30588a"></div>
<div class="bar" style="left:601.91px;top:365.90px;width:13.91px;height:3.31px;background:#4a76ad;border:0.7px solid #30588a"></div>
<div class="bar" style="left:49.01px;top:405.05px;width:20.66px;height:3.17px;background:#4a76ad;border:0.7px solid #30588a"></div>
<div class="bar" style="left:49.01px;top:410.42px;width:18.37px;height:3.17px;background:#4a76ad;border:0.7px solid #30588a"></div>
<div class="bar" style="left:49.01px;top:415.80px;width:18.37px;height:3.17px;background:#4a76ad;border:0.7px solid #30588a"></div>
<div class="bar" style="left:49.01px;top:421.18px;width:32.52px;height:3.17px;background:#4a76ad;border:0.7px solid #30588a"></div>
<div class="bar" style="left:49.01px;top:426.55px;width:27.94px;height:3.17px;background:#4a76ad;border:0.7px solid #30588a"></div>
<div class="bar" style="left:49.01px;top:431.93px;width:17.54px;height:3.17px;background:#4a76ad;border:0.7px solid #30588a"></div>
<div class="bar" style="left:49.01px;top:437.31px;width:16.29px;height:3.17px;background:#4a76ad;border:0.7px solid #30588a"></div>
<div class="bar" style="left:49.01px;top:442.68px;width:19.62px;height:3.17px;background:#4a76ad;border:0.7px solid #30588a"></div>
<div class="bar" style="left:49.01px;top:448.06px;width:16.29px;height:3.17px;background:#4a76ad;border:0.7px solid #30588a"></div>
<div class="bar" style="left:49.01px;top:453.44px;width:16.29px;height:3.17px;background:#4a76ad;border:0.7px solid #30588a"></div>
<div class="bar" style="left:49.01px;top:458.81px;width:16.29px;height:3.17px;background:#4a76ad;border:0.7px solid #30588a"></div>
<div class="bar" style="left:34.02px;top:464.19px;width:15.99px;height:3.17px;background:#4a76ad;border:0.7px solid #30588a"></div>
<div class="bar" style="left:49.01px;top:469.57px;width:17.54px;height:3.17px;background:#4a76ad;border:0.7px solid #30588a"></div>
<div class="bar" style="left:49.01px;top:474.94px;width:18.37px;height:3.17px;background:#4a76ad;border:0.7px solid #30588a"></div>
<div class="bar" style="left:49.01px;top:480.32px;width:18.37px;height:3.17px;background:#4a76ad;border:0.7px solid #30588a"></div>
<div class="bar" style="left:49.01px;top:485.70px;width:18.37px;height:3.17px;background:#4a76ad;border:0.7px solid #30588a"></div>
<div class="bar" style="left:49.01px;top:491.07px;width:19.62px;height:3.17px;background:#4a76ad;border:0.7px solid #30588a"></div>
<div class="bar" style="left:30.90px;top:496.45px;width:19.11px;height:3.17px;background:#4a76ad;border:0.7px solid #30588a"></div>
<div class="bar" style="left:49.01px;top:501.83px;width:19.62px;height:3.17px;background:#4a76ad;border:0.7px solid #30588a"></div>
<div class="bar" style="left:28.82px;top:507.20px;width:21.19px;height:3.17px;background:#4a76ad;border:0.7px solid #30588a"></div>
<div class="bar" style="left:49.01px;top:512.58px;width:23.16px;height:3.17px;background:#4a76ad;border:0.7px solid #30588a"></div>
<div class="bar" style="left:49.01px;top:517.96px;width:23.78px;height:3.17px;background:#4a76ad;border:0.7px solid #30588a"></div>
<div class="bar" style="left:49.01px;top:523.33px;width:26.90px;height:3.17px;background:#4a76ad;border:0.7px solid #30588a"></div>
<div class="bar" style="left:49.01px;top:528.71px;width:33.14px;height:3.17px;background:#4a76ad;border:0.7px solid #30588a"></div>
<div class="bar" style="left:49.01px;top:534.09px;width:39.80px;height:3.17px;background:#4a76ad;border:0.7px solid #30588a"></div>
<div class="bar" style="left:49.01px;top:539.46px;width:41.26px;height:3.17px;background:#4a76ad;border:0.7px solid #30588a"></div>
<div class="bar" style="left:49.01px;top:544.84px;width:44.17px;height:3.17px;background:#4a76ad;border:0.7px solid #30588a"></div>
<div class="bar" style="left:49.01px;top:550.22px;width:52.91px;height:3.17px;background:#4a76ad;border:0.7px solid #30588a"></div>
<div class="bar" style="left:49.01px;top:555.59px;width:59.56px;height:3.17px;background:#4a76ad;border:0.7px solid #30588a"></div>
<div class="bar" style="left:49.01px;top:560.97px;width:23.16px;height:3.17px;background:#4a76ad;border:0.7px solid #30588a"></div>
<div class="bar" style="left:201.69px;top:401.92px;width:9.22px;height:3.18px;background:#b84745;border:0.7px solid #8e3432"></div>
<div class="bar" style="left:201.69px;top:407.32px;width:9.22px;height:3.18px;background:#b84745;border:0.7px solid #8e3432"></div>
<div class="bar" style="left:201.69px;top:412.72px;width:10.26px;height:3.18px;background:#b84745;border:0.7px solid #8e3432"></div>
<div class="bar" style="left:201.69px;top:418.12px;width:10.26px;height:3.18px;background:#b84745;border:0.7px solid #8e3432"></div>
<div class="bar" style="left:201.69px;top:423.51px;width:10.26px;height:3.18px;background:#b84745;border:0.7px solid #8e3432"></div>
<div class="bar" style="left:192.32px;top:428.91px;width:10.37px;height:3.18px;background:#b84745;border:0.7px solid #8e3432"></div>
<div class="bar" style="left:192.32px;top:434.31px;width:10.37px;height:3.18px;background:#b84745;border:0.7px solid #8e3432"></div>
<div class="bar" style="left:201.69px;top:439.71px;width:12.34px;height:3.18px;background:#b84745;border:0.7px solid #8e3432"></div>
<div class="bar" style="left:190.87px;top:445.11px;width:11.83px;height:3.18px;background:#b84745;border:0.7px solid #8e3432"></div>
<div class="bar" style="left:190.87px;top:450.51px;width:11.83px;height:3.18px;background:#b84745;border:0.7px solid #8e3432"></div>
<div class="bar" style="left:201.69px;top:455.90px;width:15.46px;height:3.18px;background:#b84745;border:0.7px solid #8e3432"></div>
<div class="bar" style="left:201.69px;top:461.30px;width:16.50px;height:3.18px;background:#b84745;border:0.7px solid #8e3432"></div>
<div class="bar" style="left:201.69px;top:466.70px;width:17.54px;height:3.18px;background:#b84745;border:0.7px solid #8e3432"></div>
<div class="bar" style="left:201.69px;top:472.10px;width:18.58px;height:3.18px;background:#b84745;border:0.7px solid #8e3432"></div>
<div class="bar" style="left:201.69px;top:477.50px;width:18.58px;height:3.18px;background:#b84745;border:0.7px solid #8e3432"></div>
<div class="bar" style="left:201.69px;top:482.89px;width:18.58px;height:3.18px;background:#b84745;border:0.7px solid #8e3432"></div>
<div class="bar" style="left:201.69px;top:488.29px;width:18.58px;height:3.18px;background:#b84745;border:0.7px solid #8e3432"></div>
<div class="bar" style="left:184.63px;top:493.69px;width:18.07px;height:3.18px;background:#b84745;border:0.7px solid #8e3432"></div>
<div class="bar" style="left:201.69px;top:499.09px;width:19.62px;height:3.18px;background:#b84745;border:0.7px solid #8e3432"></div>
<div class="bar" style="left:201.69px;top:504.49px;width:22.12px;height:3.18px;background:#b84745;border:0.7px solid #8e3432"></div>
<div class="bar" style="left:201.69px;top:509.89px;width:22.12px;height:3.18px;background:#b84745;border:0.7px solid #8e3432"></div>
<div class="bar" style="left:201.69px;top:515.28px;width:23.16px;height:3.18px;background:#b84745;border:0.7px solid #8e3432"></div>
<div class="bar" style="left:179.43px;top:520.68px;width:23.27px;height:3.18px;background:#b84745;border:0.7px solid #8e3432"></div>
<div class="bar" style="left:201.69px;top:526.08px;width:25.24px;height:3.18px;background:#b84745;border:0.7px solid #8e3432"></div>
<div class="bar" style="left:201.69px;top:531.48px;width:25.24px;height:3.18px;background:#b84745;border:0.7px solid #8e3432"></div>
<div class="bar" style="left:201.69px;top:536.88px;width:29.40px;height:3.18px;background:#b84745;border:0.7px solid #8e3432"></div>
<div class="bar" style="left:201.69px;top:542.28px;width:29.40px;height:3.18px;background:#b84745;border:0.7px solid #8e3432"></div>
<div class="bar" style="left:201.69px;top:547.67px;width:31.48px;height:3.18px;background:#b84745;border:0.7px solid #8e3432"></div>
<div class="bar" style="left:201.69px;top:553.07px;width:31.48px;height:3.18px;background:#b84745;border:0.7px solid #8e3432"></div>
<div class="bar" style="left:164.86px;top:558.47px;width:37.83px;height:3.18px;background:#b84745;border:0.7px solid #8e3432"></div>
<div class="bar" style="left:326.91px;top:397.09px;width:5.17px;height:3.28px;background:#b84745;border:0.7px solid #8e3432"></div>
<div class="bar" style="left:331.08px;top:402.65px;width:6.93px;height:3.28px;background:#b84745;border:0.7px solid #8e3432"></div>
<div class="bar" style="left:331.08px;top:408.22px;width:6.93px;height:3.28px;background:#b84745;border:0.7px solid #8e3432"></div>
<div class="bar" style="left:331.08px;top:413.78px;width:6.93px;height:3.28px;background:#b84745;border:0.7px solid #8e3432"></div>
<div class="bar" style="left:331.08px;top:419.34px;width:6.93px;height:3.28px;background:#b84745;border:0.7px solid #8e3432"></div>
<div class="bar" style="left:325.87px;top:424.91px;width:6.21px;height:3.28px;background:#b84745;border:0.7px solid #8e3432"></div>
<div class="bar" style="left:331.08px;top:430.47px;width:7.97px;height:3.28px;background:#b84745;border:0.7px solid #8e3432"></div>
<div class="bar" style="left:331.08px;top:436.03px;width:7.97px;height:3.28px;background:#b84745;border:0.7px solid #8e3432"></div>
<div class="bar" style="left:325.87px;top:441.60px;width:6.21px;height:3.28px;background:#b84745;border:0.7px solid #8e3432"></div>
<div class="bar" style="left:331.08px;top:447.16px;width:7.97px;height:3.28px;background:#b84745;border:0.7px solid #8e3432"></div>
<div class="bar" style="left:331.08px;top:452.72px;width:7.97px;height:3.28px;background:#b84745;border:0.7px solid #8e3432"></div>
<div class="bar" style="left:331.08px;top:458.29px;width:7.97px;height:3.28px;background:#b84745;border:0.7px solid #8e3432"></div>
<div class="bar" style="left:331.08px;top:463.85px;width:9.01px;height:3.28px;background:#b84745;border:0.7px solid #8e3432"></div>
<div class="bar" style="left:331.08px;top:469.41px;width:9.01px;height:3.28px;background:#b84745;border:0.7px solid #8e3432"></div>
<div class="bar" style="left:324.83px;top:474.97px;width:7.25px;height:3.28px;background:#b84745;border:0.7px solid #8e3432"></div>
<div class="bar" style="left:331.08px;top:480.54px;width:10.05px;height:3.28px;background:#b84745;border:0.7px solid #8e3432"></div>
<div class="bar" style="left:331.08px;top:486.10px;width:12.13px;height:3.28px;background:#b84745;border:0.7px solid #8e3432"></div>
<div class="bar" style="left:331.08px;top:491.66px;width:12.13px;height:3.28px;background:#b84745;border:0.7px solid #8e3432"></div>
<div class="bar" style="left:331.08px;top:497.23px;width:13.17px;height:3.28px;background:#b84745;border:0.7px solid #8e3432"></div>
<div class="bar" style="left:331.08px;top:502.79px;width:14.21px;height:3.28px;background:#b84745;border:0.7px solid #8e3432"></div>
<div class="bar" style="left:331.08px;top:508.35px;width:14.21px;height:3.28px;background:#b84745;border:0.7px solid #8e3432"></div>
<div class="bar" style="left:331.08px;top:513.92px;width:14.21px;height:3.28px;background:#b84745;border:0.7px solid #8e3432"></div>
<div class="bar" style="left:331.08px;top:519.48px;width:14.21px;height:3.28px;background:#b84745;border:0.7px solid #8e3432"></div>
<div class="bar" style="left:331.08px;top:525.04px;width:14.21px;height:3.28px;background:#b84745;border:0.7px solid #8e3432"></div>
<div class="bar" style="left:319.63px;top:530.61px;width:12.45px;height:3.28px;background:#b84745;border:0.7px solid #8e3432"></div>
<div class="bar" style="left:317.55px;top:536.17px;width:14.53px;height:3.28px;background:#b84745;border:0.7px solid #8e3432"></div>
<div class="bar" style="left:331.08px;top:541.73px;width:19.83px;height:3.28px;background:#b84745;border:0.7px solid #8e3432"></div>
<div class="bar" style="left:331.08px;top:547.30px;width:20.87px;height:3.28px;background:#b84745;border:0.7px solid #8e3432"></div>
<div class="bar" style="left:331.08px;top:552.86px;width:23.99px;height:3.28px;background:#b84745;border:0.7px solid #8e3432"></div>
<div class="bar" style="left:331.08px;top:558.42px;width:57.90px;height:3.28px;background:#b84745;border:0.7px solid #8e3432"></div>
<div class="bar" style="left:459.20px;top:396.24px;width:6.62px;height:3.32px;background:#b84745;border:0.7px solid #8e3432"></div>
<div class="bar" style="left:464.83px;top:401.86px;width:7.32px;height:3.32px;background:#b84745;border:0.7px solid #8e3432"></div>
<div class="bar" style="left:458.79px;top:407.48px;width:7.04px;height:3.32px;background:#b84745;border:0.7px solid #8e3432"></div>
<div class="bar" style="left:458.79px;top:413.10px;width:7.04px;height:3.32px;background:#b84745;border:0.7px solid #8e3432"></div>
<div class="bar" style="left:464.83px;top:418.72px;width:8.36px;height:3.32px;background:#b84745;border:0.7px solid #8e3432"></div>
<div class="bar" style="left:457.75px;top:424.34px;width:8.08px;height:3.32px;background:#b84745;border:0.7px solid #8e3432"></div>
<div class="bar" style="left:464.83px;top:429.97px;width:9.40px;height:3.32px;background:#b84745;border:0.7px solid #8e3432"></div>
<div class="bar" style="left:456.29px;top:435.59px;width:9.54px;height:3.32px;background:#b84745;border:0.7px solid #8e3432"></div>
<div class="bar" style="left:464.83px;top:441.21px;width:9.40px;height:3.32px;background:#b84745;border:0.7px solid #8e3432"></div>
<div class="bar" style="left:464.83px;top:446.83px;width:10.45px;height:3.32px;background:#b84745;border:0.7px solid #8e3432"></div>
<div class="bar" style="left:464.83px;top:452.45px;width:11.49px;height:3.32px;background:#b84745;border:0.7px solid #8e3432"></div>
<div class="bar" style="left:453.17px;top:458.07px;width:12.66px;height:3.32px;background:#b84745;border:0.7px solid #8e3432"></div>
<div class="bar" style="left:452.13px;top:463.69px;width:13.70px;height:3.32px;background:#b84745;border:0.7px solid #8e3432"></div>
<div class="bar" style="left:452.13px;top:469.31px;width:13.70px;height:3.32px;background:#b84745;border:0.7px solid #8e3432"></div>
<div class="bar" style="left:464.83px;top:474.93px;width:13.57px;height:3.32px;background:#b84745;border:0.7px solid #8e3432"></div>
<div class="bar" style="left:451.09px;top:480.55px;width:14.74px;height:3.32px;background:#b84745;border:0.7px solid #8e3432"></div>
<div class="bar" style="left:464.83px;top:486.17px;width:15.65px;height:3.32px;background:#b84745;border:0.7px solid #8e3432"></div>
<div class="bar" style="left:449.01px;top:491.79px;width:16.82px;height:3.32px;background:#b84745;border:0.7px solid #8e3432"></div>
<div class="bar" style="left:447.97px;top:497.41px;width:17.86px;height:3.32px;background:#b84745;border:0.7px solid #8e3432"></div>
<div class="bar" style="left:447.97px;top:503.03px;width:17.86px;height:3.32px;background:#b84745;border:0.7px solid #8e3432"></div>
<div class="bar" style="left:443.81px;top:508.65px;width:22.02px;height:3.32px;background:#b84745;border:0.7px solid #8e3432"></div>
<div class="bar" style="left:464.83px;top:514.27px;width:26.46px;height:3.32px;background:#b84745;border:0.7px solid #8e3432"></div>
<div class="bar" style="left:439.44px;top:519.89px;width:26.39px;height:3.32px;background:#b84745;border:0.7px solid #8e3432"></div>
<div class="bar" style="left:464.83px;top:525.51px;width:27.50px;height:3.32px;background:#b84745;border:0.7px solid #8e3432"></div>
<div class="bar" style="left:436.32px;top:531.13px;width:29.51px;height:3.32px;background:#b84745;border:0.7px solid #8e3432"></div>
<div class="bar" style="left:436.32px;top:536.75px;width:29.51px;height:3.32px;background:#b84745;border:0.7px solid #8e3432"></div>
<div class="bar" style="left:428.83px;top:542.37px;width:37.00px;height:3.32px;background:#b84745;border:0.7px solid #8e3432"></div>
<div class="bar" style="left:464.83px;top:547.99px;width:37.28px;height:3.32px;background:#b84745;border:0.7px solid #8e3432"></div>
<div class="bar" style="left:427.79px;top:553.62px;width:38.04px;height:3.32px;background:#b84745;border:0.7px solid #8e3432"></div>
<div class="bar" style="left:426.75px;top:559.24px;width:39.08px;height:3.32px;background:#b84745;border:0.7px solid #8e3432"></div>
<div class="bar" style="left:587.97px;top:395.19px;width:4.96px;height:3.35px;background:#b84745;border:0.7px solid #8e3432"></div>
<div class="bar" style="left:591.93px;top:400.86px;width:4.44px;height:3.35px;background:#b84745;border:0.7px solid #8e3432"></div>
<div class="bar" style="left:591.93px;top:406.54px;width:5.48px;height:3.35px;background:#b84745;border:0.7px solid #8e3432"></div>
<div class="bar" style="left:587.97px;top:412.22px;width:4.96px;height:3.35px;background:#b84745;border:0.7px solid #8e3432"></div>
<div class="bar" style="left:591.93px;top:417.90px;width:5.48px;height:3.35px;background:#b84745;border:0.7px solid #8e3432"></div>
<div class="bar" style="left:591.93px;top:423.57px;width:5.48px;height:3.35px;background:#b84745;border:0.7px solid #8e3432"></div>
<div class="bar" style="left:591.93px;top:429.25px;width:5.48px;height:3.35px;background:#b84745;border:0.7px solid #8e3432"></div>
<div class="bar" style="left:591.93px;top:434.93px;width:6.93px;height:3.35px;background:#b84745;border:0.7px solid #8e3432"></div>
<div class="bar" style="left:591.93px;top:440.61px;width:7.97px;height:3.35px;background:#b84745;border:0.7px solid #8e3432"></div>
<div class="bar" style="left:591.93px;top:446.29px;width:7.97px;height:3.35px;background:#b84745;border:0.7px solid #8e3432"></div>
<div class="bar" style="left:591.93px;top:451.96px;width:7.97px;height:3.35px;background:#b84745;border:0.7px solid #8e3432"></div>
<div class="bar" style="left:591.93px;top:457.64px;width:7.97px;height:3.35px;background:#b84745;border:0.7px solid #8e3432"></div>
<div class="bar" style="left:591.93px;top:463.32px;width:9.01px;height:3.35px;background:#b84745;border:0.7px solid #8e3432"></div>
<div class="bar" style="left:591.93px;top:469.00px;width:9.01px;height:3.35px;background:#b84745;border:0.7px solid #8e3432"></div>
<div class="bar" style="left:591.93px;top:474.68px;width:9.01px;height:3.35px;background:#b84745;border:0.7px solid #8e3432"></div>
<div class="bar" style="left:583.60px;top:480.35px;width:9.33px;height:3.35px;background:#b84745;border:0.7px solid #8e3432"></div>
<div class="bar" style="left:583.60px;top:486.03px;width:9.33px;height:3.35px;background:#b84745;border:0.7px solid #8e3432"></div>
<div class="bar" style="left:591.93px;top:491.71px;width:10.05px;height:3.35px;background:#b84745;border:0.7px solid #8e3432"></div>
<div class="bar" style="left:582.56px;top:497.39px;width:10.37px;height:3.35px;background:#b84745;border:0.7px solid #8e3432"></div>
<div class="bar" style="left:591.93px;top:503.06px;width:11.09px;height:3.35px;background:#b84745;border:0.7px solid #8e3432"></div>
<div class="bar" style="left:591.93px;top:508.74px;width:11.09px;height:3.35px;background:#b84745;border:0.7px solid #8e3432"></div>
<div class="bar" style="left:591.93px;top:514.42px;width:12.13px;height:3.35px;background:#b84745;border:0.7px solid #8e3432"></div>
<div class="bar" style="left:591.93px;top:520.10px;width:12.13px;height:3.35px;background:#b84745;border:0.7px solid #8e3432"></div>
<div class="bar" style="left:580.48px;top:525.78px;width:12.45px;height:3.35px;background:#b84745;border:0.7px solid #8e3432"></div>
<div class="bar" style="left:579.44px;top:531.45px;width:13.49px;height:3.35px;background:#b84745;border:0.7px solid #8e3432"></div>
<div class="bar" style="left:591.93px;top:537.13px;width:15.25px;height:3.35px;background:#b84745;border:0.7px solid #8e3432"></div>
<div class="bar" style="left:591.93px;top:542.81px;width:15.25px;height:3.35px;background:#b84745;border:0.7px solid #8e3432"></div>
<div class="bar" style="left:591.93px;top:548.49px;width:16.29px;height:3.35px;background:#b84745;border:0.7px solid #8e3432"></div>
<div class="bar" style="left:591.93px;top:554.16px;width:22.12px;height:3.35px;background:#b84745;border:0.7px solid #8e3432"></div>
<div class="bar" style="left:591.93px;top:559.84px;width:48.12px;height:3.35px;background:#b84745;border:0.7px solid #8e3432"></div>
<div class="bar" style="left:62.95px;top:588.30px;width:4.44px;height:3.36px;background:#735b93;border:0.7px solid #543d72"></div>
<div class="bar" style="left:62.95px;top:594.00px;width:4.44px;height:3.36px;background:#735b93;border:0.7px solid #543d72"></div>
<div class="bar" style="left:62.95px;top:599.70px;width:5.48px;height:3.36px;background:#735b93;border:0.7px solid #543d72"></div>
<div class="bar" style="left:62.95px;top:605.40px;width:5.48px;height:3.36px;background:#735b93;border:0.7px solid #543d72"></div>
<div class="bar" style="left:62.95px;top:611.10px;width:5.48px;height:3.36px;background:#735b93;border:0.7px solid #543d72"></div>
<div class="bar" style="left:62.95px;top:616.79px;width:5.48px;height:3.36px;background:#735b93;border:0.7px solid #543d72"></div>
<div class="bar" style="left:62.95px;top:622.49px;width:6.52px;height:3.36px;background:#735b93;border:0.7px solid #543d72"></div>
<div class="bar" style="left:62.95px;top:628.19px;width:6.52px;height:3.36px;background:#735b93;border:0.7px solid #543d72"></div>
<div class="bar" style="left:62.95px;top:633.89px;width:6.52px;height:3.36px;background:#735b93;border:0.7px solid #543d72"></div>
<div class="bar" style="left:62.95px;top:639.59px;width:7.76px;height:3.36px;background:#735b93;border:0.7px solid #543d72"></div>
<div class="bar" style="left:62.95px;top:645.29px;width:7.76px;height:3.36px;background:#735b93;border:0.7px solid #543d72"></div>
<div class="bar" style="left:62.95px;top:650.99px;width:8.80px;height:3.36px;background:#735b93;border:0.7px solid #543d72"></div>
<div class="bar" style="left:55.45px;top:656.69px;width:8.50px;height:3.36px;background:#735b93;border:0.7px solid #543d72"></div>
<div class="bar" style="left:55.45px;top:662.39px;width:8.50px;height:3.36px;background:#735b93;border:0.7px solid #543d72"></div>
<div class="bar" style="left:62.95px;top:668.09px;width:8.80px;height:3.36px;background:#735b93;border:0.7px solid #543d72"></div>
<div class="bar" style="left:62.95px;top:673.79px;width:9.85px;height:3.36px;background:#735b93;border:0.7px solid #543d72"></div>
<div class="bar" style="left:62.95px;top:679.49px;width:9.85px;height:3.36px;background:#735b93;border:0.7px solid #543d72"></div>
<div class="bar" style="left:62.95px;top:685.19px;width:10.89px;height:3.36px;background:#735b93;border:0.7px solid #543d72"></div>
<div class="bar" style="left:62.95px;top:690.89px;width:10.89px;height:3.36px;background:#735b93;border:0.7px solid #543d72"></div>
<div class="bar" style="left:62.95px;top:696.59px;width:10.89px;height:3.36px;background:#735b93;border:0.7px solid #543d72"></div>
<div class="bar" style="left:62.95px;top:702.28px;width:12.97px;height:3.36px;background:#735b93;border:0.7px solid #543d72"></div>
<div class="bar" style="left:62.95px;top:707.98px;width:12.97px;height:3.36px;background:#735b93;border:0.7px solid #543d72"></div>
<div class="bar" style="left:62.95px;top:713.68px;width:14.01px;height:3.36px;background:#735b93;border:0.7px solid #543d72"></div>
<div class="bar" style="left:62.95px;top:719.38px;width:15.05px;height:3.36px;background:#735b93;border:0.7px solid #543d72"></div>
<div class="bar" style="left:62.95px;top:725.08px;width:16.09px;height:3.36px;background:#735b93;border:0.7px solid #543d72"></div>
<div class="bar" style="left:46.09px;top:730.78px;width:17.86px;height:3.36px;background:#735b93;border:0.7px solid #543d72"></div>
<div class="bar" style="left:45.05px;top:736.48px;width:18.90px;height:3.36px;background:#735b93;border:0.7px solid #543d72"></div>
<div class="bar" style="left:62.95px;top:742.18px;width:23.78px;height:3.36px;background:#735b93;border:0.7px solid #543d72"></div>
<div class="bar" style="left:62.95px;top:747.88px;width:23.78px;height:3.36px;background:#735b93;border:0.7px solid #543d72"></div>
<div class="bar" style="left:62.95px;top:753.58px;width:50.20px;height:3.36px;background:#735b93;border:0.7px solid #543d72"></div>
<div class="bar" style="left:199.61px;top:589.34px;width:5.48px;height:3.36px;background:#735b93;border:0.7px solid #543d72"></div>
<div class="bar" style="left:199.61px;top:595.04px;width:5.48px;height:3.36px;background:#735b93;border:0.7px solid #543d72"></div>
<div class="bar" style="left:199.61px;top:600.74px;width:6.52px;height:3.36px;background:#735b93;border:0.7px solid #543d72"></div>
<div class="bar" style="left:199.61px;top:606.44px;width:6.52px;height:3.36px;background:#735b93;border:0.7px solid #543d72"></div>
<div class="bar" style="left:199.61px;top:612.13px;width:6.52px;height:3.36px;background:#735b93;border:0.7px solid #543d72"></div>
<div class="bar" style="left:199.61px;top:617.83px;width:6.52px;height:3.36px;background:#735b93;border:0.7px solid #543d72"></div>
<div class="bar" style="left:195.65px;top:623.53px;width:4.96px;height:3.36px;background:#735b93;border:0.7px solid #543d72"></div>
<div class="bar" style="left:199.61px;top:629.23px;width:7.56px;height:3.36px;background:#735b93;border:0.7px solid #543d72"></div>
<div class="bar" style="left:199.61px;top:634.93px;width:8.60px;height:3.36px;background:#735b93;border:0.7px solid #543d72"></div>
<div class="bar" style="left:199.61px;top:640.63px;width:9.64px;height:3.36px;background:#735b93;border:0.7px solid #543d72"></div>
<div class="bar" style="left:199.61px;top:646.33px;width:9.64px;height:3.36px;background:#735b93;border:0.7px solid #543d72"></div>
<div class="bar" style="left:199.61px;top:652.03px;width:9.64px;height:3.36px;background:#735b93;border:0.7px solid #543d72"></div>
<div class="bar" style="left:192.32px;top:657.73px;width:8.29px;height:3.36px;background:#735b93;border:0.7px solid #543d72"></div>
<div class="bar" style="left:192.32px;top:663.43px;width:8.29px;height:3.36px;background:#735b93;border:0.7px solid #543d72"></div>
<div class="bar" style="left:199.61px;top:669.13px;width:10.68px;height:3.36px;background:#735b93;border:0.7px solid #543d72"></div>
<div class="bar" style="left:199.61px;top:674.83px;width:10.68px;height:3.36px;background:#735b93;border:0.7px solid #543d72"></div>
<div class="bar" style="left:199.61px;top:680.53px;width:11.72px;height:3.36px;background:#735b93;border:0.7px solid #543d72"></div>
<div class="bar" style="left:199.61px;top:686.23px;width:11.72px;height:3.36px;background:#735b93;border:0.7px solid #543d72"></div>
<div class="bar" style="left:199.61px;top:691.93px;width:12.76px;height:3.36px;background:#735b93;border:0.7px solid #543d72"></div>
<div class="bar" style="left:188.16px;top:697.62px;width:12.45px;height:3.36px;background:#735b93;border:0.7px solid #543d72"></div>
<div class="bar" style="left:199.61px;top:703.32px;width:13.80px;height:3.36px;background:#735b93;border:0.7px solid #543d72"></div>
<div class="bar" style="left:199.61px;top:709.02px;width:13.80px;height:3.36px;background:#735b93;border:0.7px solid #543d72"></div>
<div class="bar" style="left:199.61px;top:714.72px;width:14.84px;height:3.36px;background:#735b93;border:0.7px solid #543d72"></div>
<div class="bar" style="left:199.61px;top:720.42px;width:14.84px;height:3.36px;background:#735b93;border:0.7px solid #543d72"></div>
<div class="bar" style="left:199.61px;top:726.12px;width:15.88px;height:3.36px;background:#735b93;border:0.7px solid #543d72"></div>
<div class="bar" style="left:199.61px;top:731.82px;width:16.92px;height:3.36px;background:#735b93;border:0.7px solid #543d72"></div>
<div class="bar" style="left:199.61px;top:737.52px;width:19.00px;height:3.36px;background:#735b93;border:0.7px solid #543d72"></div>
<div class="bar" style="left:181.92px;top:743.22px;width:18.69px;height:3.36px;background:#735b93;border:0.7px solid #543d72"></div>
<div class="bar" style="left:199.61px;top:748.92px;width:22.12px;height:3.36px;background:#735b93;border:0.7px solid #543d72"></div>
<div class="bar" style="left:199.61px;top:754.62px;width:50.20px;height:3.36px;background:#735b93;border:0.7px solid #543d72"></div>
<div class="bar" style="left:318.39px;top:588.30px;width:2.56px;height:3.35px;background:#735b93;border:0.7px solid #543d72"></div>
<div class="bar" style="left:317.34px;top:593.98px;width:2.05px;height:3.35px;background:#735b93;border:0.7px solid #543d72"></div>
<div class="bar" style="left:317.34px;top:599.66px;width:2.05px;height:3.35px;background:#735b93;border:0.7px solid #543d72"></div>
<div class="bar" style="left:318.39px;top:605.34px;width:2.56px;height:3.35px;background:#735b93;border:0.7px solid #543d72"></div>
<div class="bar" style="left:318.39px;top:611.02px;width:2.56px;height:3.35px;background:#735b93;border:0.7px solid #543d72"></div>
<div class="bar" style="left:318.39px;top:616.69px;width:2.56px;height:3.35px;background:#735b93;border:0.7px solid #543d72"></div>
<div class="bar" style="left:318.39px;top:622.37px;width:2.56px;height:3.35px;background:#735b93;border:0.7px solid #543d72"></div>
<div class="bar" style="left:317.13px;top:628.05px;width:2.26px;height:3.35px;background:#735b93;border:0.7px solid #543d72"></div>
<div class="bar" style="left:318.39px;top:633.73px;width:2.56px;height:3.35px;background:#735b93;border:0.7px solid #543d72"></div>
<div class="bar" style="left:318.39px;top:639.40px;width:2.56px;height:3.35px;background:#735b93;border:0.7px solid #543d72"></div>
<div class="bar" style="left:318.39px;top:645.08px;width:2.56px;height:3.35px;background:#735b93;border:0.7px solid #543d72"></div>
<div class="bar" style="left:318.39px;top:650.76px;width:2.56px;height:3.35px;background:#735b93;border:0.7px solid #543d72"></div>
<div class="bar" style="left:317.13px;top:656.44px;width:2.26px;height:3.35px;background:#735b93;border:0.7px solid #543d72"></div>
<div class="bar" style="left:318.39px;top:662.12px;width:2.56px;height:3.35px;background:#735b93;border:0.7px solid #543d72"></div>
<div class="bar" style="left:318.39px;top:667.79px;width:2.56px;height:3.35px;background:#735b93;border:0.7px solid #543d72"></div>
<div class="bar" style="left:318.39px;top:673.47px;width:2.56px;height:3.35px;background:#735b93;border:0.7px solid #543d72"></div>
<div class="bar" style="left:318.39px;top:679.15px;width:2.56px;height:3.35px;background:#735b93;border:0.7px solid #543d72"></div>
<div class="bar" style="left:318.39px;top:684.83px;width:2.56px;height:3.35px;background:#735b93;border:0.7px solid #543d72"></div>
<div class="bar" style="left:318.39px;top:690.51px;width:2.56px;height:3.35px;background:#735b93;border:0.7px solid #543d72"></div>
<div class="bar" style="left:318.39px;top:696.18px;width:2.56px;height:3.35px;background:#735b93;border:0.7px solid #543d72"></div>
<div class="bar" style="left:318.39px;top:701.86px;width:2.56px;height:3.35px;background:#735b93;border:0.7px solid #543d72"></div>
<div class="bar" style="left:318.39px;top:707.54px;width:2.56px;height:3.35px;background:#735b93;border:0.7px solid #543d72"></div>
<div class="bar" style="left:318.39px;top:713.22px;width:2.56px;height:3.35px;background:#735b93;border:0.7px solid #543d72"></div>
<div class="bar" style="left:318.39px;top:718.89px;width:2.56px;height:3.35px;background:#735b93;border:0.7px solid #543d72"></div>
<div class="bar" style="left:318.39px;top:724.57px;width:2.56px;height:3.35px;background:#735b93;border:0.7px solid #543d72"></div>
<div class="bar" style="left:318.39px;top:730.25px;width:3.60px;height:3.35px;background:#735b93;border:0.7px solid #543d72"></div>
<div class="bar" style="left:318.39px;top:735.93px;width:3.60px;height:3.35px;background:#735b93;border:0.7px solid #543d72"></div>
<div class="bar" style="left:318.39px;top:741.61px;width:5.68px;height:3.35px;background:#735b93;border:0.7px solid #543d72"></div>
<div class="bar" style="left:318.39px;top:747.28px;width:5.68px;height:3.35px;background:#735b93;border:0.7px solid #543d72"></div>
<div class="bar" style="left:318.39px;top:752.96px;width:46.67px;height:3.35px;background:#735b93;border:0.7px solid #543d72"></div>
<div class="bar" style="left:454.00px;top:589.77px;width:6.62px;height:3.33px;background:#4aa0b8;border:0.7px solid #31778a"></div>
<div class="bar" style="left:454.63px;top:595.42px;width:6.00px;height:3.33px;background:#4aa0b8;border:0.7px solid #31778a"></div>
<div class="bar" style="left:459.63px;top:601.07px;width:7.76px;height:3.33px;background:#4aa0b8;border:0.7px solid #31778a"></div>
<div class="bar" style="left:459.63px;top:606.72px;width:8.80px;height:3.33px;background:#4aa0b8;border:0.7px solid #31778a"></div>
<div class="bar" style="left:459.63px;top:612.36px;width:8.80px;height:3.33px;background:#4aa0b8;border:0.7px solid #31778a"></div>
<div class="bar" style="left:459.63px;top:618.01px;width:8.80px;height:3.33px;background:#4aa0b8;border:0.7px solid #31778a"></div>
<div class="bar" style="left:459.63px;top:623.66px;width:8.80px;height:3.33px;background:#4aa0b8;border:0.7px solid #31778a"></div>
<div class="bar" style="left:452.13px;top:629.31px;width:8.50px;height:3.33px;background:#4aa0b8;border:0.7px solid #31778a"></div>
<div class="bar" style="left:459.63px;top:634.96px;width:9.85px;height:3.33px;background:#4aa0b8;border:0.7px solid #31778a"></div>
<div class="bar" style="left:459.63px;top:640.61px;width:9.85px;height:3.33px;background:#4aa0b8;border:0.7px solid #31778a"></div>
<div class="bar" style="left:459.63px;top:646.26px;width:10.89px;height:3.33px;background:#4aa0b8;border:0.7px solid #31778a"></div>
<div class="bar" style="left:451.09px;top:651.91px;width:9.54px;height:3.33px;background:#4aa0b8;border:0.7px solid #31778a"></div>
<div class="bar" style="left:459.63px;top:657.56px;width:11.93px;height:3.33px;background:#4aa0b8;border:0.7px solid #31778a"></div>
<div class="bar" style="left:448.80px;top:663.21px;width:11.83px;height:3.33px;background:#4aa0b8;border:0.7px solid #31778a"></div>
<div class="bar" style="left:459.63px;top:668.86px;width:14.01px;height:3.33px;background:#4aa0b8;border:0.7px solid #31778a"></div>
<div class="bar" style="left:447.97px;top:674.51px;width:12.66px;height:3.33px;background:#4aa0b8;border:0.7px solid #31778a"></div>
<div class="bar" style="left:447.97px;top:680.15px;width:12.66px;height:3.33px;background:#4aa0b8;border:0.7px solid #31778a"></div>
<div class="bar" style="left:459.63px;top:685.80px;width:14.01px;height:3.33px;background:#4aa0b8;border:0.7px solid #31778a"></div>
<div class="bar" style="left:459.63px;top:691.45px;width:15.46px;height:3.33px;background:#4aa0b8;border:0.7px solid #31778a"></div>
<div class="bar" style="left:459.63px;top:697.10px;width:16.50px;height:3.33px;background:#4aa0b8;border:0.7px solid #31778a"></div>
<div class="bar" style="left:459.63px;top:702.75px;width:18.58px;height:3.33px;background:#4aa0b8;border:0.7px solid #31778a"></div>
<div class="bar" style="left:459.63px;top:708.40px;width:20.66px;height:3.33px;background:#4aa0b8;border:0.7px solid #31778a"></div>
<div class="bar" style="left:459.63px;top:714.05px;width:21.70px;height:3.33px;background:#4aa0b8;border:0.7px solid #31778a"></div>
<div class="bar" style="left:459.63px;top:719.70px;width:22.74px;height:3.33px;background:#4aa0b8;border:0.7px solid #31778a"></div>
<div class="bar" style="left:459.63px;top:725.35px;width:23.78px;height:3.33px;background:#4aa0b8;border:0.7px solid #31778a"></div>
<div class="bar" style="left:459.63px;top:731.00px;width:25.86px;height:3.33px;background:#4aa0b8;border:0.7px solid #31778a"></div>
<div class="bar" style="left:459.63px;top:736.65px;width:28.98px;height:3.33px;background:#4aa0b8;border:0.7px solid #31778a"></div>
<div class="bar" style="left:459.63px;top:742.30px;width:32.52px;height:3.33px;background:#4aa0b8;border:0.7px solid #31778a"></div>
<div class="bar" style="left:459.63px;top:747.94px;width:40.84px;height:3.33px;background:#4aa0b8;border:0.7px solid #31778a"></div>
<div class="bar" style="left:419.89px;top:753.59px;width:40.74px;height:3.33px;background:#4aa0b8;border:0.7px solid #31778a"></div>
<div class="bar" style="left:585.89px;top:592.90px;width:8.08px;height:3.31px;background:#4aa0b8;border:0.7px solid #31778a"></div>
<div class="bar" style="left:592.97px;top:598.51px;width:8.60px;height:3.31px;background:#4aa0b8;border:0.7px solid #31778a"></div>
<div class="bar" style="left:592.97px;top:604.11px;width:10.26px;height:3.31px;background:#4aa0b8;border:0.7px solid #31778a"></div>
<div class="bar" style="left:592.97px;top:609.72px;width:10.26px;height:3.31px;background:#4aa0b8;border:0.7px solid #31778a"></div>
<div class="bar" style="left:592.97px;top:615.32px;width:11.09px;height:3.31px;background:#4aa0b8;border:0.7px solid #31778a"></div>
<div class="bar" style="left:592.97px;top:620.93px;width:11.09px;height:3.31px;background:#4aa0b8;border:0.7px solid #31778a"></div>
<div class="bar" style="left:592.97px;top:626.54px;width:11.09px;height:3.31px;background:#4aa0b8;border:0.7px solid #31778a"></div>
<div class="bar" style="left:582.77px;top:632.14px;width:11.20px;height:3.31px;background:#4aa0b8;border:0.7px solid #31778a"></div>
<div class="bar" style="left:592.97px;top:637.75px;width:12.34px;height:3.31px;background:#4aa0b8;border:0.7px solid #31778a"></div>
<div class="bar" style="left:581.73px;top:643.35px;width:12.24px;height:3.31px;background:#4aa0b8;border:0.7px solid #31778a"></div>
<div class="bar" style="left:581.73px;top:648.96px;width:12.24px;height:3.31px;background:#4aa0b8;border:0.7px solid #31778a"></div>
<div class="bar" style="left:592.97px;top:654.57px;width:14.42px;height:3.31px;background:#4aa0b8;border:0.7px solid #31778a"></div>
<div class="bar" style="left:580.48px;top:660.17px;width:13.49px;height:3.31px;background:#4aa0b8;border:0.7px solid #31778a"></div>
<div class="bar" style="left:579.44px;top:665.78px;width:14.53px;height:3.31px;background:#4aa0b8;border:0.7px solid #31778a"></div>
<div class="bar" style="left:592.97px;top:671.39px;width:15.46px;height:3.31px;background:#4aa0b8;border:0.7px solid #31778a"></div>
<div class="bar" style="left:592.97px;top:676.99px;width:16.50px;height:3.31px;background:#4aa0b8;border:0.7px solid #31778a"></div>
<div class="bar" style="left:592.97px;top:682.60px;width:17.54px;height:3.31px;background:#4aa0b8;border:0.7px solid #31778a"></div>
<div class="bar" style="left:592.97px;top:688.20px;width:17.54px;height:3.31px;background:#4aa0b8;border:0.7px solid #31778a"></div>
<div class="bar" style="left:576.32px;top:693.81px;width:17.65px;height:3.31px;background:#4aa0b8;border:0.7px solid #31778a"></div>
<div class="bar" style="left:592.97px;top:699.42px;width:18.58px;height:3.31px;background:#4aa0b8;border:0.7px solid #31778a"></div>
<div class="bar" style="left:576.32px;top:705.02px;width:17.65px;height:3.31px;background:#4aa0b8;border:0.7px solid #31778a"></div>
<div class="bar" style="left:592.97px;top:710.63px;width:18.58px;height:3.31px;background:#4aa0b8;border:0.7px solid #31778a"></div>
<div class="bar" style="left:592.97px;top:716.23px;width:19.62px;height:3.31px;background:#4aa0b8;border:0.7px solid #31778a"></div>
<div class="bar" style="left:592.97px;top:721.84px;width:22.12px;height:3.31px;background:#4aa0b8;border:0.7px solid #31778a"></div>
<div class="bar" style="left:592.97px;top:727.45px;width:22.12px;height:3.31px;background:#4aa0b8;border:0.7px solid #31778a"></div>
<div class="bar" style="left:592.97px;top:733.05px;width:23.16px;height:3.31px;background:#4aa0b8;border:0.7px solid #31778a"></div>
<div class="bar" style="left:592.97px;top:738.66px;width:24.82px;height:3.31px;background:#4aa0b8;border:0.7px solid #31778a"></div>
<div class="bar" style="left:592.97px;top:744.26px;width:30.44px;height:3.31px;background:#4aa0b8;border:0.7px solid #31778a"></div>
<div class="bar" style="left:554.06px;top:749.87px;width:39.91px;height:3.31px;background:#4aa0b8;border:0.7px solid #31778a"></div>
<div class="bar" style="left:592.97px;top:755.48px;width:42.92px;height:3.31px;background:#4aa0b8;border:0.7px solid #31778a"></div>
<div class="bar" style="left:54.20px;top:779.49px;width:5.58px;height:3.28px;background:#4aa0b8;border:0.7px solid #31778a"></div>
<div class="bar" style="left:58.79px;top:785.05px;width:4.02px;height:3.28px;background:#4aa0b8;border:0.7px solid #31778a"></div>
<div class="bar" style="left:58.79px;top:790.61px;width:4.02px;height:3.28px;background:#4aa0b8;border:0.7px solid #31778a"></div>
<div class="bar" style="left:54.20px;top:796.18px;width:5.58px;height:3.28px;background:#4aa0b8;border:0.7px solid #31778a"></div>
<div class="bar" style="left:58.79px;top:801.74px;width:5.48px;height:3.28px;background:#4aa0b8;border:0.7px solid #31778a"></div>
<div class="bar" style="left:58.79px;top:807.30px;width:5.48px;height:3.28px;background:#4aa0b8;border:0.7px solid #31778a"></div>
<div class="bar" style="left:53.37px;top:812.86px;width:6.42px;height:3.28px;background:#4aa0b8;border:0.7px solid #31778a"></div>
<div class="bar" style="left:52.12px;top:818.43px;width:7.66px;height:3.28px;background:#4aa0b8;border:0.7px solid #31778a"></div>
<div class="bar" style="left:58.79px;top:823.99px;width:7.76px;height:3.28px;background:#4aa0b8;border:0.7px solid #31778a"></div>
<div class="bar" style="left:52.12px;top:829.55px;width:7.66px;height:3.28px;background:#4aa0b8;border:0.7px solid #31778a"></div>
<div class="bar" style="left:58.79px;top:835.12px;width:7.76px;height:3.28px;background:#4aa0b8;border:0.7px solid #31778a"></div>
<div class="bar" style="left:58.79px;top:840.68px;width:7.76px;height:3.28px;background:#4aa0b8;border:0.7px solid #31778a"></div>
<div class="bar" style="left:58.79px;top:846.24px;width:7.76px;height:3.28px;background:#4aa0b8;border:0.7px solid #31778a"></div>
<div class="bar" style="left:58.79px;top:851.81px;width:8.60px;height:3.28px;background:#4aa0b8;border:0.7px solid #31778a"></div>
<div class="bar" style="left:58.79px;top:857.37px;width:8.60px;height:3.28px;background:#4aa0b8;border:0.7px solid #31778a"></div>
<div class="bar" style="left:58.79px;top:862.93px;width:8.60px;height:3.28px;background:#4aa0b8;border:0.7px solid #31778a"></div>
<div class="bar" style="left:58.79px;top:868.50px;width:8.60px;height:3.28px;background:#4aa0b8;border:0.7px solid #31778a"></div>
<div class="bar" style="left:58.79px;top:874.06px;width:8.60px;height:3.28px;background:#4aa0b8;border:0.7px solid #31778a"></div>
<div class="bar" style="left:58.79px;top:879.62px;width:9.64px;height:3.28px;background:#4aa0b8;border:0.7px solid #31778a"></div>
<div class="bar" style="left:58.79px;top:885.19px;width:9.64px;height:3.28px;background:#4aa0b8;border:0.7px solid #31778a"></div>
<div class="bar" style="left:58.79px;top:890.75px;width:9.64px;height:3.28px;background:#4aa0b8;border:0.7px solid #31778a"></div>
<div class="bar" style="left:49.00px;top:896.31px;width:10.79px;height:3.28px;background:#4aa0b8;border:0.7px solid #31778a"></div>
<div class="bar" style="left:58.79px;top:901.87px;width:11.93px;height:3.28px;background:#4aa0b8;border:0.7px solid #31778a"></div>
<div class="bar" style="left:58.79px;top:907.44px;width:12.97px;height:3.28px;background:#4aa0b8;border:0.7px solid #31778a"></div>
<div class="bar" style="left:58.79px;top:913.00px;width:14.01px;height:3.28px;background:#4aa0b8;border:0.7px solid #31778a"></div>
<div class="bar" style="left:44.01px;top:918.56px;width:15.78px;height:3.28px;background:#4aa0b8;border:0.7px solid #31778a"></div>
<div class="bar" style="left:58.79px;top:924.13px;width:17.13px;height:3.28px;background:#4aa0b8;border:0.7px solid #31778a"></div>
<div class="bar" style="left:58.79px;top:929.69px;width:18.17px;height:3.28px;background:#4aa0b8;border:0.7px solid #31778a"></div>
<div class="bar" style="left:34.02px;top:935.25px;width:25.76px;height:3.28px;background:#4aa0b8;border:0.7px solid #31778a"></div>
<div class="bar" style="left:58.79px;top:940.82px;width:30.44px;height:3.28px;background:#4aa0b8;border:0.7px solid #31778a"></div>
<div class="bar" style="left:197.53px;top:780.74px;width:9.01px;height:3.27px;background:#5a5a5a;border:0.7px solid #444444"></div>
<div class="bar" style="left:197.53px;top:786.28px;width:9.01px;height:3.27px;background:#5a5a5a;border:0.7px solid #444444"></div>
<div class="bar" style="left:197.53px;top:791.81px;width:9.01px;height:3.27px;background:#5a5a5a;border:0.7px solid #444444"></div>
<div class="bar" style="left:197.53px;top:797.34px;width:10.05px;height:3.27px;background:#5a5a5a;border:0.7px solid #444444"></div>
<div class="bar" style="left:197.53px;top:802.88px;width:10.05px;height:3.27px;background:#5a5a5a;border:0.7px solid #444444"></div>
<div class="bar" style="left:197.53px;top:808.41px;width:10.05px;height:3.27px;background:#5a5a5a;border:0.7px solid #444444"></div>
<div class="bar" style="left:197.53px;top:813.95px;width:10.05px;height:3.27px;background:#5a5a5a;border:0.7px solid #444444"></div>
<div class="bar" style="left:197.53px;top:819.48px;width:11.09px;height:3.27px;background:#5a5a5a;border:0.7px solid #444444"></div>
<div class="bar" style="left:197.53px;top:825.02px;width:11.09px;height:3.27px;background:#5a5a5a;border:0.7px solid #444444"></div>
<div class="bar" style="left:186.71px;top:830.55px;width:11.83px;height:3.27px;background:#5a5a5a;border:0.7px solid #444444"></div>
<div class="bar" style="left:197.53px;top:836.09px;width:11.09px;height:3.27px;background:#5a5a5a;border:0.7px solid #444444"></div>
<div class="bar" style="left:197.53px;top:841.62px;width:11.09px;height:3.27px;background:#5a5a5a;border:0.7px solid #444444"></div>
<div class="bar" style="left:197.53px;top:847.15px;width:11.09px;height:3.27px;background:#5a5a5a;border:0.7px solid #444444"></div>
<div class="bar" style="left:186.71px;top:852.69px;width:11.83px;height:3.27px;background:#5a5a5a;border:0.7px solid #444444"></div>
<div class="bar" style="left:197.53px;top:858.22px;width:12.13px;height:3.27px;background:#5a5a5a;border:0.7px solid #444444"></div>
<div class="bar" style="left:197.53px;top:863.76px;width:12.13px;height:3.27px;background:#5a5a5a;border:0.7px solid #444444"></div>
<div class="bar" style="left:197.53px;top:869.29px;width:13.17px;height:3.27px;background:#5a5a5a;border:0.7px solid #444444"></div>
<div class="bar" style="left:197.53px;top:874.83px;width:13.17px;height:3.27px;background:#5a5a5a;border:0.7px solid #444444"></div>
<div class="bar" style="left:197.53px;top:880.36px;width:13.17px;height:3.27px;background:#5a5a5a;border:0.7px solid #444444"></div>
<div class="bar" style="left:197.53px;top:885.90px;width:14.21px;height:3.27px;background:#5a5a5a;border:0.7px solid #444444"></div>
<div class="bar" style="left:184.00px;top:891.43px;width:14.53px;height:3.27px;background:#5a5a5a;border:0.7px solid #444444"></div>
<div class="bar" style="left:197.53px;top:896.96px;width:15.46px;height:3.27px;background:#5a5a5a;border:0.7px solid #444444"></div>
<div class="bar" style="left:197.53px;top:902.50px;width:17.54px;height:3.27px;background:#5a5a5a;border:0.7px solid #444444"></div>
<div class="bar" style="left:197.53px;top:908.03px;width:19.62px;height:3.27px;background:#5a5a5a;border:0.7px solid #444444"></div>
<div class="bar" style="left:178.38px;top:913.57px;width:20.15px;height:3.27px;background:#5a5a5a;border:0.7px solid #444444"></div>
<div class="bar" style="left:197.53px;top:919.10px;width:23.57px;height:3.27px;background:#5a5a5a;border:0.7px solid #444444"></div>
<div class="bar" style="left:170.69px;top:924.64px;width:27.84px;height:3.27px;background:#5a5a5a;border:0.7px solid #444444"></div>
<div class="bar" style="left:197.53px;top:930.17px;width:30.44px;height:3.27px;background:#5a5a5a;border:0.7px solid #444444"></div>
<div class="bar" style="left:197.53px;top:935.71px;width:40.84px;height:3.27px;background:#5a5a5a;border:0.7px solid #444444"></div>
<div class="bar" style="left:197.53px;top:941.24px;width:41.88px;height:3.27px;background:#5a5a5a;border:0.7px solid #444444"></div>
<div class="bar" style="left:332.53px;top:781.80px;width:5.48px;height:3.22px;background:#5a5a5a;border:0.7px solid #444444"></div>
<div class="bar" style="left:328.57px;top:787.26px;width:4.96px;height:3.22px;background:#5a5a5a;border:0.7px solid #444444"></div>
<div class="bar" style="left:328.57px;top:792.73px;width:4.96px;height:3.22px;background:#5a5a5a;border:0.7px solid #444444"></div>
<div class="bar" style="left:328.57px;top:798.19px;width:4.96px;height:3.22px;background:#5a5a5a;border:0.7px solid #444444"></div>
<div class="bar" style="left:328.57px;top:803.65px;width:4.96px;height:3.22px;background:#5a5a5a;border:0.7px solid #444444"></div>
<div class="bar" style="left:327.53px;top:809.12px;width:6.00px;height:3.22px;background:#5a5a5a;border:0.7px solid #444444"></div>
<div class="bar" style="left:326.91px;top:814.58px;width:6.62px;height:3.22px;background:#5a5a5a;border:0.7px solid #444444"></div>
<div class="bar" style="left:332.53px;top:820.04px;width:7.56px;height:3.22px;background:#5a5a5a;border:0.7px solid #444444"></div>
<div class="bar" style="left:332.53px;top:825.50px;width:7.56px;height:3.22px;background:#5a5a5a;border:0.7px solid #444444"></div>
<div class="bar" style="left:332.53px;top:830.97px;width:7.56px;height:3.22px;background:#5a5a5a;border:0.7px solid #444444"></div>
<div class="bar" style="left:332.53px;top:836.43px;width:7.56px;height:3.22px;background:#5a5a5a;border:0.7px solid #444444"></div>
<div class="bar" style="left:326.91px;top:841.89px;width:6.62px;height:3.22px;background:#5a5a5a;border:0.7px solid #444444"></div>
<div class="bar" style="left:326.91px;top:847.36px;width:6.62px;height:3.22px;background:#5a5a5a;border:0.7px solid #444444"></div>
<div class="bar" style="left:326.91px;top:852.82px;width:6.62px;height:3.22px;background:#5a5a5a;border:0.7px solid #444444"></div>
<div class="bar" style="left:325.87px;top:858.28px;width:7.66px;height:3.22px;background:#5a5a5a;border:0.7px solid #444444"></div>
<div class="bar" style="left:325.87px;top:863.74px;width:7.66px;height:3.22px;background:#5a5a5a;border:0.7px solid #444444"></div>
<div class="bar" style="left:325.87px;top:869.21px;width:7.66px;height:3.22px;background:#5a5a5a;border:0.7px solid #444444"></div>
<div class="bar" style="left:324.83px;top:874.67px;width:8.70px;height:3.22px;background:#5a5a5a;border:0.7px solid #444444"></div>
<div class="bar" style="left:324.83px;top:880.13px;width:8.70px;height:3.22px;background:#5a5a5a;border:0.7px solid #444444"></div>
<div class="bar" style="left:323.79px;top:885.59px;width:9.75px;height:3.22px;background:#5a5a5a;border:0.7px solid #444444"></div>
<div class="bar" style="left:323.79px;top:891.06px;width:9.75px;height:3.22px;background:#5a5a5a;border:0.7px solid #444444"></div>
<div class="bar" style="left:322.75px;top:896.52px;width:10.79px;height:3.22px;background:#5a5a5a;border:0.7px solid #444444"></div>
<div class="bar" style="left:322.75px;top:901.98px;width:10.79px;height:3.22px;background:#5a5a5a;border:0.7px solid #444444"></div>
<div class="bar" style="left:332.53px;top:907.45px;width:11.72px;height:3.22px;background:#5a5a5a;border:0.7px solid #444444"></div>
<div class="bar" style="left:332.53px;top:912.91px;width:15.25px;height:3.22px;background:#5a5a5a;border:0.7px solid #444444"></div>
<div class="bar" style="left:332.53px;top:918.37px;width:15.25px;height:3.22px;background:#5a5a5a;border:0.7px solid #444444"></div>
<div class="bar" style="left:319.63px;top:923.83px;width:13.91px;height:3.22px;background:#5a5a5a;border:0.7px solid #444444"></div>
<div class="bar" style="left:315.05px;top:929.30px;width:18.48px;height:3.22px;background:#5a5a5a;border:0.7px solid #444444"></div>
<div class="bar" style="left:308.81px;top:934.76px;width:24.72px;height:3.22px;background:#5a5a5a;border:0.7px solid #444444"></div>
<div class="bar" style="left:332.53px;top:940.22px;width:30.02px;height:3.22px;background:#5a5a5a;border:0.7px solid #444444"></div>
<div class="bar" style="left:454.01px;top:784.33px;width:5.06px;height:3.16px;background:#5a5a5a;border:0.7px solid #444444"></div>
<div class="bar" style="left:454.01px;top:789.68px;width:5.06px;height:3.16px;background:#5a5a5a;border:0.7px solid #444444"></div>
<div class="bar" style="left:454.01px;top:795.04px;width:5.06px;height:3.16px;background:#5a5a5a;border:0.7px solid #444444"></div>
<div class="bar" style="left:454.01px;top:800.39px;width:5.06px;height:3.16px;background:#5a5a5a;border:0.7px solid #444444"></div>
<div class="bar" style="left:454.01px;top:805.75px;width:6.10px;height:3.16px;background:#5a5a5a;border:0.7px solid #444444"></div>
<div class="bar" style="left:450.05px;top:811.10px;width:4.96px;height:3.16px;background:#5a5a5a;border:0.7px solid #444444"></div>
<div class="bar" style="left:450.05px;top:816.46px;width:4.96px;height:3.16px;background:#5a5a5a;border:0.7px solid #444444"></div>
<div class="bar" style="left:450.05px;top:821.82px;width:4.96px;height:3.16px;background:#5a5a5a;border:0.7px solid #444444"></div>
<div class="bar" style="left:450.05px;top:827.17px;width:4.96px;height:3.16px;background:#5a5a5a;border:0.7px solid #444444"></div>
<div class="bar" style="left:454.01px;top:832.53px;width:6.10px;height:3.16px;background:#5a5a5a;border:0.7px solid #444444"></div>
<div class="bar" style="left:454.01px;top:837.88px;width:6.10px;height:3.16px;background:#5a5a5a;border:0.7px solid #444444"></div>
<div class="bar" style="left:450.05px;top:843.24px;width:4.96px;height:3.16px;background:#5a5a5a;border:0.7px solid #444444"></div>
<div class="bar" style="left:454.01px;top:848.59px;width:6.10px;height:3.16px;background:#5a5a5a;border:0.7px solid #444444"></div>
<div class="bar" style="left:454.01px;top:853.95px;width:6.10px;height:3.16px;background:#5a5a5a;border:0.7px solid #444444"></div>
<div class="bar" style="left:454.01px;top:859.30px;width:6.10px;height:3.16px;background:#5a5a5a;border:0.7px solid #444444"></div>
<div class="bar" style="left:450.05px;top:864.66px;width:4.96px;height:3.16px;background:#5a5a5a;border:0.7px solid #444444"></div>
<div class="bar" style="left:454.01px;top:870.01px;width:7.14px;height:3.16px;background:#5a5a5a;border:0.7px solid #444444"></div>
<div class="bar" style="left:454.01px;top:875.37px;width:7.14px;height:3.16px;background:#5a5a5a;border:0.7px solid #444444"></div>
<div class="bar" style="left:454.01px;top:880.72px;width:8.18px;height:3.16px;background:#5a5a5a;border:0.7px solid #444444"></div>
<div class="bar" style="left:454.01px;top:886.08px;width:8.18px;height:3.16px;background:#5a5a5a;border:0.7px solid #444444"></div>
<div class="bar" style="left:454.01px;top:891.43px;width:8.18px;height:3.16px;background:#5a5a5a;border:0.7px solid #444444"></div>
<div class="bar" style="left:454.01px;top:896.79px;width:8.18px;height:3.16px;background:#5a5a5a;border:0.7px solid #444444"></div>
<div class="bar" style="left:454.01px;top:902.14px;width:9.22px;height:3.16px;background:#5a5a5a;border:0.7px solid #444444"></div>
<div class="bar" style="left:454.01px;top:907.50px;width:10.26px;height:3.16px;background:#5a5a5a;border:0.7px solid #444444"></div>
<div class="bar" style="left:454.01px;top:912.85px;width:10.26px;height:3.16px;background:#5a5a5a;border:0.7px solid #444444"></div>
<div class="bar" style="left:454.01px;top:918.21px;width:12.34px;height:3.16px;background:#5a5a5a;border:0.7px solid #444444"></div>
<div class="bar" style="left:454.01px;top:923.56px;width:22.12px;height:3.16px;background:#5a5a5a;border:0.7px solid #444444"></div>
<div class="bar" style="left:454.01px;top:928.92px;width:31.48px;height:3.16px;background:#5a5a5a;border:0.7px solid #444444"></div>
<div class="bar" style="left:454.01px;top:934.27px;width:35.02px;height:3.16px;background:#5a5a5a;border:0.7px solid #444444"></div>
<div class="bar" style="left:454.01px;top:939.63px;width:53.32px;height:3.16px;background:#5a5a5a;border:0.7px solid #444444"></div>
<div class="bar" style="left:587.77px;top:781.18px;width:7.97px;height:3.22px;background:#5a5a5a;border:0.7px solid #444444"></div>
<div class="bar" style="left:587.77px;top:786.64px;width:7.56px;height:3.22px;background:#5a5a5a;border:0.7px solid #444444"></div>
<div class="bar" style="left:587.77px;top:792.10px;width:7.97px;height:3.22px;background:#5a5a5a;border:0.7px solid #444444"></div>
<div class="bar" style="left:587.77px;top:797.57px;width:7.97px;height:3.22px;background:#5a5a5a;border:0.7px solid #444444"></div>
<div class="bar" style="left:587.77px;top:803.03px;width:9.01px;height:3.22px;background:#5a5a5a;border:0.7px solid #444444"></div>
<div class="bar" style="left:587.77px;top:808.49px;width:9.01px;height:3.22px;background:#5a5a5a;border:0.7px solid #444444"></div>
<div class="bar" style="left:587.77px;top:813.96px;width:10.05px;height:3.22px;background:#5a5a5a;border:0.7px solid #444444"></div>
<div class="bar" style="left:579.44px;top:819.42px;width:9.33px;height:3.22px;background:#5a5a5a;border:0.7px solid #444444"></div>
<div class="bar" style="left:587.77px;top:824.88px;width:10.05px;height:3.22px;background:#5a5a5a;border:0.7px solid #444444"></div>
<div class="bar" style="left:587.77px;top:830.34px;width:10.05px;height:3.22px;background:#5a5a5a;border:0.7px solid #444444"></div>
<div class="bar" style="left:587.77px;top:835.81px;width:10.05px;height:3.22px;background:#5a5a5a;border:0.7px solid #444444"></div>
<div class="bar" style="left:577.98px;top:841.27px;width:10.79px;height:3.22px;background:#5a5a5a;border:0.7px solid #444444"></div>
<div class="bar" style="left:587.77px;top:846.73px;width:11.09px;height:3.22px;background:#5a5a5a;border:0.7px solid #444444"></div>
<div class="bar" style="left:587.77px;top:852.19px;width:12.13px;height:3.22px;background:#5a5a5a;border:0.7px solid #444444"></div>
<div class="bar" style="left:576.94px;top:857.66px;width:11.83px;height:3.22px;background:#5a5a5a;border:0.7px solid #444444"></div>
<div class="bar" style="left:587.77px;top:863.12px;width:13.17px;height:3.22px;background:#5a5a5a;border:0.7px solid #444444"></div>
<div class="bar" style="left:587.77px;top:868.58px;width:13.17px;height:3.22px;background:#5a5a5a;border:0.7px solid #444444"></div>
<div class="bar" style="left:587.77px;top:874.05px;width:14.21px;height:3.22px;background:#5a5a5a;border:0.7px solid #444444"></div>
<div class="bar" style="left:587.77px;top:879.51px;width:15.25px;height:3.22px;background:#5a5a5a;border:0.7px solid #444444"></div>
<div class="bar" style="left:587.77px;top:884.97px;width:15.25px;height:3.22px;background:#5a5a5a;border:0.7px solid #444444"></div>
<div class="bar" style="left:587.77px;top:890.43px;width:17.33px;height:3.22px;background:#5a5a5a;border:0.7px solid #444444"></div>
<div class="bar" style="left:587.77px;top:895.90px;width:18.37px;height:3.22px;background:#5a5a5a;border:0.7px solid #444444"></div>
<div class="bar" style="left:587.77px;top:901.36px;width:19.41px;height:3.22px;background:#5a5a5a;border:0.7px solid #444444"></div>
<div class="bar" style="left:587.77px;top:906.82px;width:19.41px;height:3.22px;background:#5a5a5a;border:0.7px solid #444444"></div>
<div class="bar" style="left:567.58px;top:912.28px;width:21.19px;height:3.22px;background:#5a5a5a;border:0.7px solid #444444"></div>
<div class="bar" style="left:587.77px;top:917.75px;width:22.74px;height:3.22px;background:#5a5a5a;border:0.7px solid #444444"></div>
<div class="bar" style="left:558.85px;top:923.21px;width:29.92px;height:3.22px;background:#5a5a5a;border:0.7px solid #444444"></div>
<div class="bar" style="left:587.77px;top:928.67px;width:39.80px;height:3.22px;background:#5a5a5a;border:0.7px solid #444444"></div>
<div class="bar" style="left:587.77px;top:934.14px;width:41.88px;height:3.22px;background:#5a5a5a;border:0.7px solid #444444"></div>
<div class="bar" style="left:587.77px;top:939.60px;width:59.98px;height:3.22px;background:#5a5a5a;border:0.7px solid #444444"></div>
<div class="ax" style="left:4.08px;top:175.30px;width:126.44px;height:1px"></div>
<div class="tk" style="left:4.08px;top:175.80px;height:3.2px"></div>
<div class="tk" style="left:46.31px;top:175.80px;height:3.2px"></div>
<div class="tk" style="left:87.91px;top:175.80px;height:3.2px"></div>
<div class="tk" style="left:129.51px;top:175.80px;height:3.2px"></div>
<div class="ax" style="left:158.42px;top:174.05px;width:101.89px;height:1px"></div>
<div class="tk" style="left:158.42px;top:174.55px;height:3.2px"></div>
<div class="tk" style="left:200.03px;top:174.55px;height:3.2px"></div>
<div class="tk" style="left:242.67px;top:174.55px;height:3.2px"></div>
<div class="ax" style="left:283.02px;top:175.30px;width:110.21px;height:1px"></div>
<div class="tk" style="left:283.02px;top:175.80px;height:3.2px"></div>
<div class="tk" style="left:337.73px;top:175.80px;height:3.2px"></div>
<div class="tk" style="left:392.23px;top:175.80px;height:3.2px"></div>
<div class="ax" style="left:412.82px;top:175.72px;width:102.93px;height:1px"></div>
<div class="tk" style="left:412.82px;top:176.22px;height:3.2px"></div>
<div class="tk" style="left:446.73px;top:176.22px;height:3.2px"></div>
<div class="tk" style="left:481.05px;top:176.22px;height:3.2px"></div>
<div class="tk" style="left:514.75px;top:176.22px;height:3.2px"></div>
<div class="ax" style="left:539.51px;top:176.75px;width:112.08px;height:1px"></div>
<div class="tk" style="left:539.51px;top:177.25px;height:3.2px"></div>
<div class="tk" style="left:595.05px;top:177.25px;height:3.2px"></div>
<div class="tk" style="left:650.59px;top:177.25px;height:3.2px"></div>
<div class="ax" style="left:10.32px;top:371.13px;width:119.57px;height:1px"></div>
<div class="tk" style="left:10.32px;top:371.63px;height:3.2px"></div>
<div class="tk" style="left:49.84px;top:371.63px;height:3.2px"></div>
<div class="tk" style="left:89.37px;top:371.63px;height:3.2px"></div>
<div class="tk" style="left:128.89px;top:371.63px;height:3.2px"></div>
<div class="ax" style="left:153.64px;top:372.17px;width:104.60px;height:1px"></div>
<div class="tk" style="left:153.64px;top:372.67px;height:3.2px"></div>
<div class="tk" style="left:188.17px;top:372.67px;height:3.2px"></div>
<div class="tk" style="left:222.91px;top:372.67px;height:3.2px"></div>
<div class="tk" style="left:257.23px;top:372.67px;height:3.2px"></div>
<div class="ax" style="left:284.06px;top:370.72px;width:114.79px;height:1px"></div>
<div class="tk" style="left:284.06px;top:371.22px;height:3.2px"></div>
<div class="tk" style="left:312.14px;top:371.22px;height:3.2px"></div>
<div class="tk" style="left:340.85px;top:371.22px;height:3.2px"></div>
<div class="tk" style="left:369.35px;top:371.22px;height:3.2px"></div>
<div class="tk" style="left:397.85px;top:371.22px;height:3.2px"></div>
<div class="ax" style="left:414.90px;top:370.30px;width:121.65px;height:1px"></div>
<div class="tk" style="left:414.90px;top:370.80px;height:3.2px"></div>
<div class="tk" style="left:452.35px;top:370.80px;height:3.2px"></div>
<div class="tk" style="left:490.21px;top:370.80px;height:3.2px"></div>
<div class="tk" style="left:527.86px;top:370.80px;height:3.2px"></div>
<div class="ax" style="left:549.08px;top:370.30px;width:98.77px;height:1px"></div>
<div class="tk" style="left:549.08px;top:370.80px;height:3.2px"></div>
<div class="tk" style="left:581.94px;top:370.80px;height:3.2px"></div>
<div class="tk" style="left:614.81px;top:370.80px;height:3.2px"></div>
<div class="tk" style="left:646.85px;top:370.80px;height:3.2px"></div>
<div class="ax" style="left:13.65px;top:565.30px;width:107.09px;height:1px"></div>
<div class="tk" style="left:13.65px;top:565.80px;height:3.2px"></div>
<div class="tk" style="left:49.01px;top:565.80px;height:3.2px"></div>
<div class="tk" style="left:84.37px;top:565.80px;height:3.2px"></div>
<div class="tk" style="left:119.74px;top:565.80px;height:3.2px"></div>
<div class="ax" style="left:162.58px;top:561.56px;width:99.19px;height:1px"></div>
<div class="tk" style="left:162.58px;top:562.06px;height:3.2px"></div>
<div class="tk" style="left:211.47px;top:562.06px;height:3.2px"></div>
<div class="tk" style="left:260.77px;top:562.06px;height:3.2px"></div>
<div class="ax" style="left:299.66px;top:561.56px;width:97.32px;height:1px"></div>
<div class="tk" style="left:299.66px;top:562.06px;height:3.2px"></div>
<div class="tk" style="left:339.81px;top:562.06px;height:3.2px"></div>
<div class="tk" style="left:379.34px;top:562.06px;height:3.2px"></div>
<div class="ax" style="left:414.90px;top:561.56px;width:99.81px;height:1px"></div>
<div class="tk" style="left:414.90px;top:562.06px;height:3.2px"></div>
<div class="tk" style="left:464.83px;top:562.06px;height:3.2px"></div>
<div class="tk" style="left:513.71px;top:562.06px;height:3.2px"></div>
<div class="ax" style="left:544.50px;top:563.64px;width:102.93px;height:1px"></div>
<div class="tk" style="left:544.50px;top:564.14px;height:3.2px"></div>
<div class="tk" style="left:578.20px;top:564.14px;height:3.2px"></div>
<div class="tk" style="left:612.11px;top:564.14px;height:3.2px"></div>
<div class="tk" style="left:646.43px;top:564.14px;height:3.2px"></div>
<div class="ax" style="left:17.18px;top:757.88px;width:99.19px;height:1px"></div>
<div class="tk" style="left:17.18px;top:758.38px;height:3.2px"></div>
<div class="tk" style="left:50.05px;top:758.38px;height:3.2px"></div>
<div class="tk" style="left:82.71px;top:758.38px;height:3.2px"></div>
<div class="tk" style="left:115.37px;top:758.38px;height:3.2px"></div>
<div class="ax" style="left:154.26px;top:758.71px;width:99.81px;height:1px"></div>
<div class="tk" style="left:154.26px;top:759.21px;height:3.2px"></div>
<div class="tk" style="left:187.55px;top:759.21px;height:3.2px"></div>
<div class="tk" style="left:220.21px;top:759.21px;height:3.2px"></div>
<div class="tk" style="left:253.07px;top:759.21px;height:3.2px"></div>
<div class="ax" style="left:288.22px;top:757.25px;width:91.07px;height:1px"></div>
<div class="tk" style="left:288.22px;top:757.75px;height:3.2px"></div>
<div class="tk" style="left:318.39px;top:757.75px;height:3.2px"></div>
<div class="tk" style="left:348.55px;top:757.75px;height:3.2px"></div>
<div class="tk" style="left:378.30px;top:757.75px;height:3.2px"></div>
<div class="ax" style="left:410.74px;top:757.67px;width:99.81px;height:1px"></div>
<div class="tk" style="left:410.74px;top:758.17px;height:3.2px"></div>
<div class="tk" style="left:460.04px;top:758.17px;height:3.2px"></div>
<div class="tk" style="left:509.55px;top:758.17px;height:3.2px"></div>
<div class="ax" style="left:540.13px;top:758.71px;width:106.68px;height:1px"></div>
<div class="tk" style="left:540.13px;top:759.21px;height:3.2px"></div>
<div class="tk" style="left:592.97px;top:759.21px;height:3.2px"></div>
<div class="tk" style="left:645.81px;top:759.21px;height:3.2px"></div>
<div class="ax" style="left:28.00px;top:944.87px;width:93.78px;height:1px"></div>
<div class="tk" style="left:28.00px;top:945.37px;height:3.2px"></div>
<div class="tk" style="left:58.79px;top:945.37px;height:3.2px"></div>
<div class="tk" style="left:89.99px;top:945.37px;height:3.2px"></div>
<div class="tk" style="left:120.78px;top:945.37px;height:3.2px"></div>
<div class="ax" style="left:154.26px;top:944.87px;width:87.33px;height:1px"></div>
<div class="tk" style="left:154.26px;top:945.37px;height:3.2px"></div>
<div class="tk" style="left:197.53px;top:945.37px;height:3.2px"></div>
<div class="tk" style="left:240.59px;top:945.37px;height:3.2px"></div>
<div class="ax" style="left:289.68px;top:944.04px;width:86.91px;height:1px"></div>
<div class="tk" style="left:289.68px;top:944.54px;height:3.2px"></div>
<div class="tk" style="left:332.53px;top:944.54px;height:3.2px"></div>
<div class="tk" style="left:375.59px;top:944.54px;height:3.2px"></div>
<div class="ax" style="left:422.18px;top:944.45px;width:96.69px;height:1px"></div>
<div class="tk" style="left:422.18px;top:944.95px;height:3.2px"></div>
<div class="tk" style="left:454.01px;top:944.95px;height:3.2px"></div>
<div class="tk" style="left:486.05px;top:944.95px;height:3.2px"></div>
<div class="tk" style="left:517.87px;top:944.95px;height:3.2px"></div>
<div class="ax" style="left:555.94px;top:944.45px;width:95.65px;height:1px"></div>
<div class="tk" style="left:555.94px;top:944.95px;height:3.2px"></div>
<div class="tk" style="left:587.77px;top:944.95px;height:3.2px"></div>
<div class="tk" style="left:619.39px;top:944.95px;height:3.2px"></div>
<div class="tk" style="left:650.59px;top:944.95px;height:3.2px"></div>
<div class="tl" style="left:4.28px;top:185.00px;font-size:10px">-1</div>
<div class="tl" style="left:46.51px;top:185.00px;font-size:10px">-0.5</div>
<div class="tl" style="left:88.11px;top:185.00px;font-size:10px">0</div>
<div class="tl" style="left:129.71px;top:185.00px;font-size:10px">0.5</div>
<div class="lb" style="left:120.65px;top:0.71px">GLB</div>
<div class="lb" style="left:120.65px;top:6.56px">Ucr</div>
<div class="lb" style="left:120.65px;top:12.41px">MCH</div>
<div class="lb" style="left:120.65px;top:18.26px">LDL-C</div>
<div class="lb" style="left:120.65px;top:24.11px">TBIL</div>
<div class="lb" style="left:120.65px;top:29.96px">IBIL</div>
<div class="lb" style="left:120.65px;top:35.81px">AST</div>
<div class="lb" style="left:120.65px;top:41.66px">WBC</div>
<div class="lb" style="left:120.65px;top:47.51px">LEU</div>
<div class="lb" style="left:120.65px;top:53.36px">P</div>
<div class="lb" style="left:120.65px;top:59.21px">A-G ratio</div>
<div class="lb" style="left:120.65px;top:65.06px">Alb</div>
<div class="lb" style="left:120.65px;top:70.91px">Urea</div>
<div class="lb" style="left:120.65px;top:76.76px">eGFB</div>
<div class="lb" style="left:120.65px;top:82.61px">r-GT</div>
<div class="lb" style="left:120.65px;top:88.46px">TG</div>
<div class="lb" style="left:120.65px;top:94.31px">SBP</div>
<div class="lb" style="left:120.65px;top:100.16px">ALT</div>
<div class="lb" style="left:120.65px;top:106.01px">DBP</div>
<div class="lb" style="left:120.65px;top:111.86px">AST/ALT</div>
<div class="lb" style="left:120.65px;top:117.71px">Urea/Cr</div>
<div class="lb" style="left:120.65px;top:123.56px">MCHC</div>
<div class="lb" style="left:120.65px;top:129.41px">BMI</div>
<div class="lb" style="left:120.65px;top:135.26px">HDL-C</div>
<div class="lb" style="left:120.65px;top:141.11px">Smoking</div>
<div class="lb" style="left:120.65px;top:146.96px">Drinking</div>
<div class="lb" style="left:120.65px;top:152.81px">UA</div>
<div class="lb" style="left:120.65px;top:158.66px">RBC Count</div>
<div class="lb" style="left:120.65px;top:164.51px">Cre</div>
<div class="lb" style="left:120.65px;top:170.36px">Hb</div>
<div class="tt" style="left:7.06px;top:0.98px;transform:scaleX(0.915)">Gender</div>
<div class="tl" style="left:158.62px;top:183.75px;font-size:10px">-0.7</div>
<div class="tl" style="left:200.23px;top:183.75px;font-size:10px">-0.2</div>
<div class="tl" style="left:242.87px;top:183.75px;font-size:10px">0.3</div>
<div class="lb" style="left:248.37px;top:1.33px">MCHC</div>
<div class="lb" style="left:248.37px;top:7.15px">PG I</div>
<div class="lb" style="left:248.37px;top:12.96px">LDH</div>
<div class="lb" style="left:248.37px;top:18.78px">Drinking</div>
<div class="lb" style="left:248.37px;top:24.59px">PG II</div>
<div class="lb" style="left:248.37px;top:30.40px">Urea/Cr</div>
<div class="lb" style="left:248.37px;top:36.22px">eo%</div>
<div class="lb" style="left:248.37px;top:42.03px">WBC</div>
<div class="lb" style="left:248.37px;top:47.85px">MCV</div>
<div class="lb" style="left:248.37px;top:53.66px">DH</div>
<div class="lb" style="left:248.37px;top:59.47px">TG</div>
<div class="lb" style="left:248.37px;top:65.29px">e-habits</div>
<div class="lb" style="left:248.37px;top:71.10px">PH</div>
<div class="lb" style="left:248.37px;top:76.92px">MCH</div>
<div class="lb" style="left:248.37px;top:82.73px">Cre</div>
<div class="lb" style="left:248.37px;top:88.54px">RBC Count</div>
<div class="lb" style="left:248.37px;top:94.36px">A:G ratio</div>
<div class="lb" style="left:248.37px;top:100.17px">TP</div>
<div class="lb" style="left:248.37px;top:105.99px">OT</div>
<div class="lb" style="left:248.37px;top:111.80px">BMI</div>
<div class="lb" style="left:248.37px;top:117.62px">Urea</div>
<div class="lb" style="left:248.37px;top:123.43px">PLT/BPC</div>
<div class="lb" style="left:248.37px;top:129.24px">Smoking</div>
<div class="lb" style="left:248.37px;top:135.06px">LDL-C</div>
<div class="lb" style="left:248.37px;top:140.87px">DBP</div>
<div class="lb" style="left:248.37px;top:146.69px">TC</div>
<div class="lb" style="left:248.37px;top:152.50px">RDW</div>
<div class="lb" style="left:248.37px;top:158.31px">Alb</div>
<div class="lb" style="left:248.37px;top:164.13px">SBP</div>
<div class="lb" style="left:248.37px;top:169.94px">eGFB</div>
<div class="tt" style="left:166.10px;top:0.48px;transform:scaleX(1.003)">Age</div>
<div class="tl" style="left:283.22px;top:185.00px;font-size:10px">-0.5</div>
<div class="tl" style="left:337.93px;top:185.00px;font-size:10px">0</div>
<div class="tl" style="left:392.43px;top:185.00px;font-size:10px">0.5</div>
<div class="lb" style="left:380.88px;top:3.62px">Dbil</div>
<div class="lb" style="left:380.88px;top:9.37px">Urea/Cr</div>
<div class="lb" style="left:380.88px;top:15.12px">ApoB</div>
<div class="lb" style="left:380.88px;top:20.87px">WHR</div>
<div class="lb" style="left:380.88px;top:26.62px">CHE</div>
<div class="lb" style="left:380.88px;top:32.37px">ApoA1</div>
<div class="lb" style="left:380.88px;top:38.12px">PH</div>
<div class="lb" style="left:380.88px;top:43.87px">Urea</div>
<div class="lb" style="left:380.88px;top:49.62px">MCHC</div>
<div class="lb" style="left:380.88px;top:55.37px">TC</div>
<div class="lb" style="left:380.88px;top:61.12px">Smoking</div>
<div class="lb" style="left:380.88px;top:66.87px">Hei</div>
<div class="lb" style="left:380.88px;top:72.62px">AST</div>
<div class="lb" style="left:380.88px;top:78.36px">Age</div>
<div class="lb" style="left:380.88px;top:84.11px">WBC</div>
<div class="lb" style="left:380.88px;top:89.86px">eGFB</div>
<div class="lb" style="left:380.88px;top:95.61px">Drinking</div>
<div class="lb" style="left:380.88px;top:101.36px">LDL-C</div>
<div class="lb" style="left:380.88px;top:107.11px">r-GT</div>
<div class="lb" style="left:380.88px;top:112.86px">Cre</div>
<div class="lb" style="left:380.88px;top:118.61px">RBC Count</div>
<div class="lb" style="left:380.88px;top:124.36px">TG</div>
<div class="lb" style="left:380.88px;top:130.11px">AST/ALT</div>
<div class="lb" style="left:380.88px;top:135.86px">Hb</div>
<div class="lb" style="left:380.88px;top:141.61px">ALT</div>
<div class="lb" style="left:380.88px;top:147.36px">DBP</div>
<div class="lb" style="left:380.88px;top:153.11px">SBP</div>
<div class="lb" style="left:380.88px;top:158.86px">Gender</div>
<div class="lb" style="left:380.88px;top:164.61px">HDL-C</div>
<div class="lb" style="left:380.88px;top:170.36px">UA</div>
<div class="tt" style="left:298.76px;top:1.13px;transform:scaleX(1.020)">BMI</div>
<div class="tl" style="left:413.02px;top:185.42px;font-size:10px">-0.5</div>
<div class="tl" style="left:446.93px;top:185.42px;font-size:10px">0</div>
<div class="tl" style="left:481.25px;top:185.42px;font-size:10px">0.5</div>
<div class="tl" style="left:514.95px;top:185.42px;font-size:10px">1</div>
<div class="lb" style="left:506.93px;top:2.17px">Drinking</div>
<div class="lb" style="left:506.93px;top:8.02px">ApoA1/B</div>
<div class="lb" style="left:506.93px;top:13.88px">Hcy</div>
<div class="lb" style="left:506.93px;top:19.74px">Smoking</div>
<div class="lb" style="left:506.93px;top:25.59px">WBC</div>
<div class="lb" style="left:506.93px;top:31.45px">Cor</div>
<div class="lb" style="left:506.93px;top:37.31px">r-GT</div>
<div class="lb" style="left:506.93px;top:43.17px">ApoA1</div>
<div class="lb" style="left:506.93px;top:49.02px">MCHC</div>
<div class="lb" style="left:506.93px;top:54.88px">Cre</div>
<div class="lb" style="left:506.93px;top:60.74px">UA</div>
<div class="lb" style="left:506.93px;top:66.59px">CHE</div>
<div class="lb" style="left:506.93px;top:72.45px">ApoB</div>
<div class="lb" style="left:506.93px;top:78.31px">HCT</div>
<div class="lb" style="left:506.93px;top:84.16px">PAB</div>
<div class="lb" style="left:506.93px;top:90.02px">WBRSR(mPas_200)</div>
<div class="lb" style="left:506.93px;top:95.88px">Gender</div>
<div class="lb" style="left:506.93px;top:101.74px">RBC Count</div>
<div class="lb" style="left:506.93px;top:107.59px">Hb</div>
<div class="lb" style="left:506.93px;top:113.45px">ESR</div>
<div class="lb" style="left:506.93px;top:119.31px">PV</div>
<div class="lb" style="left:506.93px;top:125.16px">RBCAI</div>
<div class="lb" style="left:506.93px;top:131.02px">IR</div>
<div class="lb" style="left:506.93px;top:136.88px">WBRV</div>
<div class="lb" style="left:506.93px;top:142.74px">WBHSRV</div>
<div class="lb" style="left:506.93px;top:148.59px">WBHSRVI</div>
<div class="lb" style="left:506.93px;top:154.45px">WBRVI</div>
<div class="lb" style="left:506.93px;top:160.31px">WBRSR(mPas_100)</div>
<div class="lb" style="left:506.93px;top:166.16px">WBRSR(mPas_50)</div>
<div class="lb" style="left:506.93px;top:172.02px">WBRSR(mPas_1)</div>
<div class="tt" style="left:418.96px;top:1.23px;transform:scaleX(1.017)">WBRSR</div>
<div class="tt" style="left:418.24px;top:19.18px;transform:scaleX(1.025)">(mPas_5)</div>
<div class="tl" style="left:539.71px;top:186.45px;font-size:10px">-0.5</div>
<div class="tl" style="left:595.25px;top:186.45px;font-size:10px">0</div>
<div class="tl" style="left:650.79px;top:186.45px;font-size:10px">0.5</div>
<div class="lb" style="left:627.79px;top:4.40px">PT</div>
<div class="lb" style="left:627.79px;top:10.22px">r-GT</div>
<div class="lb" style="left:627.79px;top:16.03px">Cre</div>
<div class="lb" style="left:627.79px;top:21.85px">ApoA1/B</div>
<div class="lb" style="left:627.79px;top:27.67px">IgG</div>
<div class="lb" style="left:627.79px;top:33.49px">TG</div>
<div class="lb" style="left:627.79px;top:39.31px">BMI</div>
<div class="lb" style="left:627.79px;top:45.13px">Alb</div>
<div class="lb" style="left:627.79px;top:50.95px">RBC Count</div>
<div class="lb" style="left:627.79px;top:56.76px">APTT</div>
<div class="lb" style="left:627.79px;top:62.58px">WBRVI</div>
<div class="lb" style="left:627.79px;top:68.40px">Na</div>
<div class="lb" style="left:627.79px;top:74.22px">WBRSR(mPas_1)</div>
<div class="lb" style="left:627.79px;top:80.04px">P</div>
<div class="lb" style="left:627.79px;top:85.86px">Drinking</div>
<div class="lb" style="left:627.79px;top:91.68px">Gender</div>
<div class="lb" style="left:627.79px;top:97.49px">WBRSR(mPas_5)</div>
<div class="lb" style="left:627.79px;top:103.31px">WBHSRVI</div>
<div class="lb" style="left:627.79px;top:109.13px">UA</div>
<div class="lb" style="left:627.79px;top:114.95px">WBRSR(mPas_100)</div>
<div class="lb" style="left:627.79px;top:120.77px">WBRSR(mPas_50)</div>
<div class="lb" style="left:627.79px;top:126.59px">Hb</div>
<div class="lb" style="left:627.79px;top:132.41px">Mg</div>
<div class="lb" style="left:627.79px;top:138.22px">OP</div>
<div class="lb" style="left:627.79px;top:144.04px">APU</div>
<div class="lb" style="left:627.79px;top:149.86px">AG</div>
<div class="lb" style="left:627.79px;top:155.68px">ApoB</div>
<div class="lb" style="left:627.79px;top:161.50px">Cl</div>
<div class="lb" style="left:627.79px;top:167.32px">ADA</div>
<div class="lb" style="left:627.79px;top:173.14px">CHE</div>
<div class="tt b" style="left:549.10px;top:1.23px;transform:scaleX(1.019)">PAB</div>
<div class="tl" style="left:10.52px;top:380.83px;font-size:10px">-0.2</div>
<div class="tl" style="left:50.04px;top:380.83px;font-size:10px">0</div>
<div class="tl" style="left:89.57px;top:380.83px;font-size:10px">0.2</div>
<div class="tl" style="left:129.09px;top:380.83px;font-size:10px">0.4</div>
<div class="lb" style="left:101.93px;top:201.53px">Age</div>
<div class="lb" style="left:101.93px;top:207.24px">Gender</div>
<div class="lb" style="left:101.93px;top:212.94px">BAND</div>
<div class="lb" style="left:101.93px;top:218.65px">Urea/Cr</div>
<div class="lb" style="left:101.93px;top:224.36px">UA</div>
<div class="lb" style="left:101.93px;top:230.06px">TP</div>
<div class="lb" style="left:101.93px;top:235.77px">TG</div>
<div class="lb" style="left:101.93px;top:241.48px">TC</div>
<div class="lb" style="left:101.93px;top:247.18px">TBIL</div>
<div class="lb" style="left:101.93px;top:252.89px">Smoking</div>
<div class="lb" style="left:101.93px;top:258.60px">SBP</div>
<div class="lb" style="left:101.93px;top:264.30px">r-GT</div>
<div class="lb" style="left:101.93px;top:270.01px">PH</div>
<div class="lb" style="left:101.93px;top:275.72px">P</div>
<div class="lb" style="left:101.93px;top:281.42px">MCHC</div>
<div class="lb" style="left:101.93px;top:287.13px">LDL-C</div>
<div class="lb" style="left:101.93px;top:292.84px">IBIL</div>
<div class="lb" style="left:101.93px;top:298.54px">hs-CRP1</div>
<div class="lb" style="left:101.93px;top:304.25px">HDL-C</div>
<div class="lb" style="left:101.93px;top:309.96px">Hb</div>
<div class="lb" style="left:101.93px;top:315.66px">GLB</div>
<div class="lb" style="left:101.93px;top:321.37px">Drinking</div>
<div class="lb" style="left:101.93px;top:327.07px">DBP</div>
<div class="lb" style="left:101.93px;top:332.78px">Dbil</div>
<div class="lb" style="left:101.93px;top:338.49px">Cre</div>
<div class="lb" style="left:101.93px;top:344.19px">BMI</div>
<div class="lb" style="left:101.93px;top:349.90px">AST/ALT</div>
<div class="lb" style="left:101.93px;top:355.61px">ALT</div>
<div class="lb" style="left:101.93px;top:361.31px">PLT/BPC</div>
<div class="lb" style="left:101.93px;top:367.02px">RBC Count</div>
<div class="tt" style="left:10.66px;top:203.73px;transform:scaleX(0.996)">WBC</div>
<div class="tl" style="left:153.84px;top:381.87px;font-size:10px">-0.05</div>
<div class="tl" style="left:188.37px;top:381.87px;font-size:10px">0</div>
<div class="tl" style="left:223.11px;top:381.87px;font-size:10px">0.05</div>
<div class="tl" style="left:257.43px;top:381.87px;font-size:10px">0.1</div>
<div class="lb" style="left:242.13px;top:200.70px">MON</div>
<div class="lb" style="left:242.13px;top:206.49px">DBP</div>
<div class="lb" style="left:242.13px;top:212.27px">MCH</div>
<div class="lb" style="left:242.13px;top:218.06px">TP</div>
<div class="lb" style="left:242.13px;top:223.84px">BMI</div>
<div class="lb" style="left:242.13px;top:229.63px">RDW</div>
<div class="lb" style="left:242.13px;top:235.41px">Dbil</div>
<div class="lb" style="left:242.13px;top:241.20px">AST/ALT</div>
<div class="lb" style="left:242.13px;top:246.98px">Hip</div>
<div class="lb" style="left:242.13px;top:252.77px">Urea</div>
<div class="lb" style="left:242.13px;top:258.55px">LYM%</div>
<div class="lb" style="left:242.13px;top:264.34px">Urea/Cr</div>
<div class="lb" style="left:242.13px;top:270.12px">FT3</div>
<div class="lb" style="left:242.13px;top:275.91px">P</div>
<div class="lb" style="left:242.13px;top:281.70px">GR%</div>
<div class="lb" style="left:242.13px;top:287.48px">SBP</div>
<div class="lb" style="left:242.13px;top:293.27px">RBC Count</div>
<div class="lb" style="left:242.13px;top:299.05px">r-GT</div>
<div class="lb" style="left:242.13px;top:304.84px">Alb</div>
<div class="lb" style="left:242.13px;top:310.62px">ALT</div>
<div class="lb" style="left:242.13px;top:316.41px">Hb</div>
<div class="lb" style="left:242.13px;top:322.19px">AST</div>
<div class="lb" style="left:242.13px;top:327.98px">Drinking</div>
<div class="lb" style="left:242.13px;top:333.76px">eGFB</div>
<div class="lb" style="left:242.13px;top:339.55px">Smoking</div>
<div class="lb" style="left:242.13px;top:345.33px">UA</div>
<div class="lb" style="left:242.13px;top:351.12px">Cre</div>
<div class="lb" style="left:242.13px;top:356.90px">Gender</div>
<div class="lb" style="left:242.13px;top:362.69px">Age</div>
<div class="lb" style="left:242.13px;top:368.48px">eo%</div>
<div class="tt" style="left:158.08px;top:203.73px;transform:scaleX(0.997)">MON%</div>
<div class="tl" style="left:284.26px;top:380.42px;font-size:10px">-1</div>
<div class="tl" style="left:312.34px;top:380.42px;font-size:10px">-0.5</div>
<div class="tl" style="left:341.05px;top:380.42px;font-size:10px">0</div>
<div class="tl" style="left:369.55px;top:380.42px;font-size:10px">0.5</div>
<div class="tl" style="left:398.05px;top:380.42px;font-size:10px">1</div>
<div class="lb" style="left:379.63px;top:203.20px">Pro</div>
<div class="lb" style="left:379.63px;top:208.84px">TC</div>
<div class="lb" style="left:379.63px;top:214.49px">PAB</div>
<div class="lb" style="left:379.63px;top:220.14px">TBIL</div>
<div class="lb" style="left:379.63px;top:225.79px">Hcy</div>
<div class="lb" style="left:379.63px;top:231.44px">IBIL</div>
<div class="lb" style="left:379.63px;top:237.09px">TP</div>
<div class="lb" style="left:379.63px;top:242.74px">PH</div>
<div class="lb" style="left:379.63px;top:248.39px">LDL-C</div>
<div class="lb" style="left:379.63px;top:254.04px">Urea</div>
<div class="lb" style="left:379.63px;top:259.69px">AST</div>
<div class="lb" style="left:379.63px;top:265.34px">Alb</div>
<div class="lb" style="left:379.63px;top:270.98px">WBC</div>
<div class="lb" style="left:379.63px;top:276.63px">eGFB</div>
<div class="lb" style="left:379.63px;top:282.28px">MCHC</div>
<div class="lb" style="left:379.63px;top:287.93px">Urea/Cr</div>
<div class="lb" style="left:379.63px;top:293.58px">r-GT</div>
<div class="lb" style="left:379.63px;top:299.23px">AST/ALT</div>
<div class="lb" style="left:379.63px;top:304.88px">ALT</div>
<div class="lb" style="left:379.63px;top:310.53px">TG</div>
<div class="lb" style="left:379.63px;top:316.18px">HDL-C</div>
<div class="lb" style="left:379.63px;top:321.83px">RBC Count</div>
<div class="lb" style="left:379.63px;top:327.48px">Hb</div>
<div class="lb" style="left:379.63px;top:333.13px">Cre</div>
<div class="lb" style="left:379.63px;top:338.77px">Gender</div>
<div class="lb" style="left:379.63px;top:344.42px">Smoking</div>
<div class="lb" style="left:379.63px;top:350.07px">SBP</div>
<div class="lb" style="left:379.63px;top:355.72px">Drinking</div>
<div class="lb" style="left:379.63px;top:361.37px">DBP</div>
<div class="lb" style="left:379.63px;top:367.02px">BMI</div>
<div class="tt" style="left:289.58px;top:203.73px;transform:scaleX(1.003)">UA</div>
<div class="tl" style="left:415.10px;top:380.00px;font-size:10px">-0.8</div>
<div class="tl" style="left:452.55px;top:380.00px;font-size:10px">-0.3</div>
<div class="tl" style="left:490.41px;top:380.00px;font-size:10px">0.2</div>
<div class="tl" style="left:528.06px;top:380.00px;font-size:10px">0.7</div>
<div class="lb" style="left:514.21px;top:202.16px">WBC</div>
<div class="lb" style="left:514.21px;top:207.80px">Ucr</div>
<div class="lb" style="left:514.21px;top:213.44px">A-G ratio</div>
<div class="lb" style="left:514.21px;top:219.08px">Alb</div>
<div class="lb" style="left:514.21px;top:224.72px">Age</div>
<div class="lb" style="left:514.21px;top:230.37px">MCH</div>
<div class="lb" style="left:514.21px;top:236.01px">LEU</div>
<div class="lb" style="left:514.21px;top:241.65px">Hcy</div>
<div class="lb" style="left:514.21px;top:247.29px">TBIL</div>
<div class="lb" style="left:514.21px;top:252.93px">r-GT</div>
<div class="lb" style="left:514.21px;top:258.58px">IBIL</div>
<div class="lb" style="left:514.21px;top:264.22px">LDL-C</div>
<div class="lb" style="left:514.21px;top:269.86px">Pro</div>
<div class="lb" style="left:514.21px;top:275.50px">TG</div>
<div class="lb" style="left:514.21px;top:281.14px">ALT</div>
<div class="lb" style="left:514.21px;top:286.79px">Cre</div>
<div class="lb" style="left:514.21px;top:292.43px">Cre</div>
<div class="lb" style="left:514.21px;top:298.07px">AST/ALT</div>
<div class="lb" style="left:514.21px;top:303.71px">Cre</div>
<div class="lb" style="left:514.21px;top:309.35px">MCHC</div>
<div class="lb" style="left:514.21px;top:315.00px">Cre</div>
<div class="lb" style="left:514.21px;top:320.64px">Cre</div>
<div class="lb" style="left:514.21px;top:326.28px">HDL-C</div>
<div class="lb" style="left:514.21px;top:331.92px">Cre</div>
<div class="lb" style="left:514.21px;top:337.56px">Urea/Cr</div>
<div class="lb" style="left:514.21px;top:343.21px">RBC Count</div>
<div class="lb" style="left:514.21px;top:348.85px">Hb</div>
<div class="lb" style="left:514.21px;top:354.49px">Cre</div>
<div class="lb" style="left:514.21px;top:360.13px">eGFB</div>
<div class="lb" style="left:514.21px;top:365.77px">Gender</div>
<div class="tt b" style="left:422.73px;top:203.73px;transform:scaleX(1.011)">Cre</div>
<div class="tl" style="left:549.28px;top:380.00px;font-size:10px">-1</div>
<div class="tl" style="left:582.14px;top:380.00px;font-size:10px">-0.5</div>
<div class="tl" style="left:615.01px;top:380.00px;font-size:10px">0</div>
<div class="tl" style="left:647.05px;top:380.00px;font-size:10px">0.5</div>
<div class="lb" style="left:632.37px;top:202.78px">Urea</div>
<div class="lb" style="left:632.37px;top:208.39px">UA</div>
<div class="lb" style="left:632.37px;top:213.99px">Smoking</div>
<div class="lb" style="left:632.37px;top:219.60px">SBP</div>
<div class="lb" style="left:632.37px;top:225.20px">OT</div>
<div class="lb" style="left:632.37px;top:230.81px">e-habits</div>
<div class="lb" style="left:632.37px;top:236.42px">TBIL</div>
<div class="lb" style="left:632.37px;top:242.02px">CysC</div>
<div class="lb" style="left:632.37px;top:247.63px">PG II</div>
<div class="lb" style="left:632.37px;top:253.23px">Hcy</div>
<div class="lb" style="left:632.37px;top:258.84px">IBIL</div>
<div class="lb" style="left:632.37px;top:264.45px">eo%</div>
<div class="lb" style="left:632.37px;top:270.05px">PG I</div>
<div class="lb" style="left:632.37px;top:275.66px">TP</div>
<div class="lb" style="left:632.37px;top:281.27px">TG</div>
<div class="lb" style="left:632.37px;top:286.87px">MCH</div>
<div class="lb" style="left:632.37px;top:292.48px">PH</div>
<div class="lb" style="left:632.37px;top:298.08px">Hb</div>
<div class="lb" style="left:632.37px;top:303.69px">RDW</div>
<div class="lb" style="left:632.37px;top:309.30px">PLT/BPC</div>
<div class="lb" style="left:632.37px;top:314.90px">Alb</div>
<div class="lb" style="left:632.37px;top:320.51px">TC</div>
<div class="lb" style="left:632.37px;top:326.11px">LDL-C</div>
<div class="lb" style="left:632.37px;top:331.72px">Urea/Cr</div>
<div class="lb" style="left:632.37px;top:337.33px">Gender</div>
<div class="lb" style="left:632.37px;top:342.93px">Age</div>
<div class="lb" style="left:632.37px;top:348.54px">Drinking</div>
<div class="lb" style="left:632.37px;top:354.14px">DBP</div>
<div class="lb" style="left:632.37px;top:359.75px">Cre</div>
<div class="lb" style="left:632.37px;top:365.36px">BMI</div>
<div class="tt" style="left:553.53px;top:203.73px;transform:scaleX(0.845)">eGFB</div>
<div class="tl" style="left:13.85px;top:575.00px;font-size:10px">-0.1</div>
<div class="tl" style="left:49.21px;top:575.00px;font-size:10px">0</div>
<div class="tl" style="left:84.57px;top:575.00px;font-size:10px">0.1</div>
<div class="tl" style="left:119.94px;top:575.00px;font-size:10px">0.2</div>
<div class="lb" style="left:105.68px;top:404.43px">UA</div>
<div class="lb" style="left:105.68px;top:409.81px">Smoking</div>
<div class="lb" style="left:105.68px;top:415.19px">SBP</div>
<div class="lb" style="left:105.68px;top:420.56px">OP</div>
<div class="lb" style="left:105.68px;top:425.94px">Na</div>
<div class="lb" style="left:105.68px;top:431.32px">Mg</div>
<div class="lb" style="left:105.68px;top:436.69px">DBP</div>
<div class="lb" style="left:105.68px;top:442.07px">BMI</div>
<div class="lb" style="left:105.68px;top:447.45px">LDL-C</div>
<div class="lb" style="left:105.68px;top:452.82px">WBRSR(mPas_100)</div>
<div class="lb" style="left:105.68px;top:458.20px">WBRSR(mPas_50)</div>
<div class="lb" style="left:105.68px;top:463.58px">HDL-C</div>
<div class="lb" style="left:105.68px;top:468.95px">BGP</div>
<div class="lb" style="left:105.68px;top:474.33px">Age</div>
<div class="lb" style="left:105.68px;top:479.71px">5'NT</div>
<div class="lb" style="left:105.68px;top:485.08px">RBC Count</div>
<div class="lb" style="left:105.68px;top:490.46px">ApoB</div>
<div class="lb" style="left:105.68px;top:495.84px">AST/ALT</div>
<div class="lb" style="left:105.68px;top:501.21px">TG</div>
<div class="lb" style="left:105.68px;top:506.59px">Gender</div>
<div class="lb" style="left:105.68px;top:511.97px">Hb</div>
<div class="lb" style="left:105.68px;top:517.34px">AST</div>
<div class="lb" style="left:105.68px;top:522.72px">ALT</div>
<div class="lb" style="left:105.68px;top:528.10px">APU</div>
<div class="lb" style="left:105.68px;top:533.47px">TBA</div>
<div class="lb" style="left:105.68px;top:538.85px">r-GT</div>
<div class="lb" style="left:105.68px;top:544.23px">LDH</div>
<div class="lb" style="left:105.68px;top:549.60px">CHE</div>
<div class="lb" style="left:105.68px;top:554.98px">ADA</div>
<div class="lb" style="left:105.68px;top:560.36px">AG</div>
<div class="tt b" style="left:16.77px;top:406.73px;transform:scaleX(1.021)">ALP</div>
<div class="tl" style="left:162.78px;top:571.26px;font-size:10px">-0.4</div>
<div class="tl" style="left:211.67px;top:571.26px;font-size:10px">0.1</div>
<div class="tl" style="left:260.97px;top:571.26px;font-size:10px">0.6</div>
<div class="lb" style="left:248.37px;top:401.31px">MCH</div>
<div class="lb" style="left:248.37px;top:406.71px">PAB</div>
<div class="lb" style="left:248.37px;top:412.11px">CHE</div>
<div class="lb" style="left:248.37px;top:417.51px">Age</div>
<div class="lb" style="left:248.37px;top:422.91px">Alb</div>
<div class="lb" style="left:248.37px;top:428.30px">Dbil</div>
<div class="lb" style="left:248.37px;top:433.70px">eGFB</div>
<div class="lb" style="left:248.37px;top:439.10px">U-GLU</div>
<div class="lb" style="left:248.37px;top:444.50px">PH</div>
<div class="lb" style="left:248.37px;top:449.90px">A-G ratio</div>
<div class="lb" style="left:248.37px;top:455.30px">AST</div>
<div class="lb" style="left:248.37px;top:460.69px">Cre</div>
<div class="lb" style="left:248.37px;top:466.09px">MCHC</div>
<div class="lb" style="left:248.37px;top:471.49px">Drinking</div>
<div class="lb" style="left:248.37px;top:476.89px">SBP</div>
<div class="lb" style="left:248.37px;top:482.29px">Smoking</div>
<div class="lb" style="left:248.37px;top:487.69px">WBC</div>
<div class="lb" style="left:248.37px;top:493.08px">AST/ALT</div>
<div class="lb" style="left:248.37px;top:498.48px">RBC Count</div>
<div class="lb" style="left:248.37px;top:503.88px">ALT</div>
<div class="lb" style="left:248.37px;top:509.28px">DBP</div>
<div class="lb" style="left:248.37px;top:514.68px">GLB</div>
<div class="lb" style="left:248.37px;top:520.07px">Gender</div>
<div class="lb" style="left:248.37px;top:525.47px">TP</div>
<div class="lb" style="left:248.37px;top:530.87px">Hb</div>
<div class="lb" style="left:248.37px;top:536.27px">TC</div>
<div class="lb" style="left:248.37px;top:541.67px">r-GT</div>
<div class="lb" style="left:248.37px;top:547.07px">BMI</div>
<div class="lb" style="left:248.37px;top:552.46px">UA</div>
<div class="lb" style="left:248.37px;top:557.86px">HDL-C</div>
<div class="tt b" style="left:169.16px;top:403.13px;transform:scaleX(0.979)">TG</div>
<div class="tl" style="left:299.86px;top:571.26px;font-size:10px">-0.4</div>
<div class="tl" style="left:340.01px;top:571.26px;font-size:10px">0.1</div>
<div class="tl" style="left:379.54px;top:571.26px;font-size:10px">0.6</div>
<div class="lb" style="left:390.24px;top:396.53px">PH</div>
<div class="lb" style="left:390.24px;top:402.09px">CHE</div>
<div class="lb" style="left:390.24px;top:407.66px">WBC</div>
<div class="lb" style="left:390.24px;top:413.22px">RDW</div>
<div class="lb" style="left:390.24px;top:418.78px">Cre</div>
<div class="lb" style="left:390.24px;top:424.35px">ApoA1</div>
<div class="lb" style="left:390.24px;top:429.91px">AST</div>
<div class="lb" style="left:390.24px;top:435.47px">Drinking</div>
<div class="lb" style="left:390.24px;top:441.04px">AST/ALT</div>
<div class="lb" style="left:390.24px;top:446.60px">MCH</div>
<div class="lb" style="left:390.24px;top:452.16px">ApoA1</div>
<div class="lb" style="left:390.24px;top:457.73px">Smoking</div>
<div class="lb" style="left:390.24px;top:463.29px">ALT</div>
<div class="lb" style="left:390.24px;top:468.85px">Urea</div>
<div class="lb" style="left:390.24px;top:474.42px">A-G ratio</div>
<div class="lb" style="left:390.24px;top:479.98px">UA</div>
<div class="lb" style="left:390.24px;top:485.54px">Hb</div>
<div class="lb" style="left:390.24px;top:491.10px">HDL-C</div>
<div class="lb" style="left:390.24px;top:496.67px">GLB</div>
<div class="lb" style="left:390.24px;top:502.23px">BMI</div>
<div class="lb" style="left:390.24px;top:507.79px">TP</div>
<div class="lb" style="left:390.24px;top:513.36px">SBP</div>
<div class="lb" style="left:390.24px;top:518.92px">r-GT</div>
<div class="lb" style="left:390.24px;top:524.48px">DBP</div>
<div class="lb" style="left:390.24px;top:530.05px">Dbil</div>
<div class="lb" style="left:390.24px;top:535.61px">eGFB</div>
<div class="lb" style="left:390.24px;top:541.17px">Age</div>
<div class="lb" style="left:390.24px;top:546.74px">ApoB</div>
<div class="lb" style="left:390.24px;top:552.30px">TG</div>
<div class="lb" style="left:390.24px;top:557.86px">LDL-C</div>
<div class="tt b" style="left:304.16px;top:397.43px;transform:scaleX(0.980)">TC</div>
<div class="tl" style="left:415.10px;top:571.26px;font-size:10px">-0.5</div>
<div class="tl" style="left:465.03px;top:571.26px;font-size:10px">0</div>
<div class="tl" style="left:513.91px;top:571.26px;font-size:10px">0.5</div>
<div class="lb" style="left:504.02px;top:395.70px">GLB</div>
<div class="lb" style="left:504.02px;top:401.32px">eGFB</div>
<div class="lb" style="left:504.02px;top:406.94px">CHE</div>
<div class="lb" style="left:504.02px;top:412.56px">Ucr</div>
<div class="lb" style="left:504.02px;top:418.18px">Dbil</div>
<div class="lb" style="left:504.02px;top:423.80px">AST</div>
<div class="lb" style="left:504.02px;top:429.42px">PH</div>
<div class="lb" style="left:504.02px;top:435.04px">Pro</div>
<div class="lb" style="left:504.02px;top:440.66px">A-G ratio</div>
<div class="lb" style="left:504.02px;top:446.28px">ApoA1/B</div>
<div class="lb" style="left:504.02px;top:451.90px">RDW</div>
<div class="lb" style="left:504.02px;top:457.53px">SBP</div>
<div class="lb" style="left:504.02px;top:463.15px">Drinking</div>
<div class="lb" style="left:504.02px;top:468.77px">DBP</div>
<div class="lb" style="left:504.02px;top:474.39px">TC</div>
<div class="lb" style="left:504.02px;top:480.01px">r-GT</div>
<div class="lb" style="left:504.02px;top:485.63px">Urea/Cr</div>
<div class="lb" style="left:504.02px;top:491.25px">MCHC</div>
<div class="lb" style="left:504.02px;top:496.87px">Smoking</div>
<div class="lb" style="left:504.02px;top:502.49px">WBC</div>
<div class="lb" style="left:504.02px;top:508.11px">ALT</div>
<div class="lb" style="left:504.02px;top:513.73px">ApoA1</div>
<div class="lb" style="left:504.02px;top:519.35px">Cre</div>
<div class="lb" style="left:504.02px;top:524.97px">AST/ALT</div>
<div class="lb" style="left:504.02px;top:530.59px">RBC Count</div>
<div class="lb" style="left:504.02px;top:536.21px">Hb</div>
<div class="lb" style="left:504.02px;top:541.83px">BMI</div>
<div class="lb" style="left:504.02px;top:547.45px">Gender</div>
<div class="lb" style="left:504.02px;top:553.07px">UA</div>
<div class="lb" style="left:504.02px;top:558.69px">TG</div>
<div class="tt b" style="left:418.11px;top:395.43px;transform:scaleX(1.009)">HDL-C</div>
<div class="tl" style="left:544.70px;top:573.34px;font-size:10px">-0.7</div>
<div class="tl" style="left:578.40px;top:573.34px;font-size:10px">-0.2</div>
<div class="tl" style="left:612.31px;top:573.34px;font-size:10px">0.3</div>
<div class="tl" style="left:646.63px;top:573.34px;font-size:10px">0.8</div>
<div class="lb" style="left:639.65px;top:394.66px">TBIL</div>
<div class="lb" style="left:639.65px;top:400.34px">AST</div>
<div class="lb" style="left:639.65px;top:406.02px">CHE</div>
<div class="lb" style="left:639.65px;top:411.69px">PH</div>
<div class="lb" style="left:639.65px;top:417.37px">ApoA</div>
<div class="lb" style="left:639.65px;top:423.05px">Drinking</div>
<div class="lb" style="left:639.65px;top:428.73px">MCH</div>
<div class="lb" style="left:639.65px;top:434.41px">PLT/BPC</div>
<div class="lb" style="left:639.65px;top:440.08px">WBC</div>
<div class="lb" style="left:639.65px;top:445.76px">GLB</div>
<div class="lb" style="left:639.65px;top:451.44px">Smoking</div>
<div class="lb" style="left:639.65px;top:457.12px">Urea</div>
<div class="lb" style="left:639.65px;top:462.79px">TP</div>
<div class="lb" style="left:639.65px;top:468.47px">ALT</div>
<div class="lb" style="left:639.65px;top:474.15px">r-GT</div>
<div class="lb" style="left:639.65px;top:479.83px">ApoA1/B</div>
<div class="lb" style="left:639.65px;top:485.51px">AST/ALT</div>
<div class="lb" style="left:639.65px;top:491.18px">Cre</div>
<div class="lb" style="left:639.65px;top:496.86px">Gender</div>
<div class="lb" style="left:639.65px;top:502.54px">RBC Count</div>
<div class="lb" style="left:639.65px;top:508.22px">DBP</div>
<div class="lb" style="left:639.65px;top:513.90px">SBP</div>
<div class="lb" style="left:639.65px;top:519.57px">UA</div>
<div class="lb" style="left:639.65px;top:525.25px">Dbil</div>
<div class="lb" style="left:639.65px;top:530.93px">eGFB</div>
<div class="lb" style="left:639.65px;top:536.61px">Hb</div>
<div class="lb" style="left:639.65px;top:542.28px">Age</div>
<div class="lb" style="left:639.65px;top:547.96px">BMI</div>
<div class="lb" style="left:639.65px;top:553.64px">ApoB</div>
<div class="lb" style="left:639.65px;top:559.32px">TC</div>
<div class="tt b" style="left:548.62px;top:395.13px;transform:scaleX(1.005)">LDL-C</div>
<div class="tl" style="left:17.38px;top:767.58px;font-size:10px">-0.7</div>
<div class="tl" style="left:50.25px;top:767.58px;font-size:10px">-0.2</div>
<div class="tl" style="left:82.91px;top:767.58px;font-size:10px">0.3</div>
<div class="tl" style="left:115.57px;top:767.58px;font-size:10px">0.8</div>
<div class="lb" style="left:114.00px;top:587.78px">U-GLU</div>
<div class="lb" style="left:114.00px;top:593.48px">IBIL</div>
<div class="lb" style="left:114.00px;top:599.18px">ApoB</div>
<div class="lb" style="left:114.00px;top:604.88px">IOP-R</div>
<div class="lb" style="left:114.00px;top:610.58px">IOP-L</div>
<div class="lb" style="left:114.00px;top:616.28px">LDH</div>
<div class="lb" style="left:114.00px;top:621.98px">GLB</div>
<div class="lb" style="left:114.00px;top:627.67px">MCHC</div>
<div class="lb" style="left:114.00px;top:633.37px">TP</div>
<div class="lb" style="left:114.00px;top:639.07px">WBC</div>
<div class="lb" style="left:114.00px;top:644.77px">Smoking</div>
<div class="lb" style="left:114.00px;top:650.47px">Urea</div>
<div class="lb" style="left:114.00px;top:656.17px">AST/ALT</div>
<div class="lb" style="left:114.00px;top:661.87px">HDL-C</div>
<div class="lb" style="left:114.00px;top:667.57px">AST</div>
<div class="lb" style="left:114.00px;top:673.27px">ALT</div>
<div class="lb" style="left:114.00px;top:678.97px">Drinking</div>
<div class="lb" style="left:114.00px;top:684.67px">TC</div>
<div class="lb" style="left:114.00px;top:690.37px">r-GT</div>
<div class="lb" style="left:114.00px;top:696.07px">LDL-C</div>
<div class="lb" style="left:114.00px;top:701.77px">TG</div>
<div class="lb" style="left:114.00px;top:707.47px">RBC Count</div>
<div class="lb" style="left:114.00px;top:713.16px">Cre</div>
<div class="lb" style="left:114.00px;top:718.86px">Hb</div>
<div class="lb" style="left:114.00px;top:724.56px">UA</div>
<div class="lb" style="left:114.00px;top:730.26px">eGFB</div>
<div class="lb" style="left:114.00px;top:735.96px">Gender</div>
<div class="lb" style="left:114.00px;top:741.66px">BMI</div>
<div class="lb" style="left:114.00px;top:747.36px">Age</div>
<div class="lb" style="left:114.00px;top:753.06px">DBP</div>
<div class="tt b" style="left:19.78px;top:589.23px;transform:scaleX(1.009)">SBP</div>
<div class="tl" style="left:154.46px;top:768.41px;font-size:10px">-0.7</div>
<div class="tl" style="left:187.75px;top:768.41px;font-size:10px">-0.2</div>
<div class="tl" style="left:220.41px;top:768.41px;font-size:10px">0.3</div>
<div class="tl" style="left:253.27px;top:768.41px;font-size:10px">0.8</div>
<div class="lb" style="left:249.00px;top:588.82px">MCH</div>
<div class="lb" style="left:249.00px;top:594.52px">ApoB</div>
<div class="lb" style="left:249.00px;top:600.22px">IOP-L</div>
<div class="lb" style="left:249.00px;top:605.92px">IOP-R</div>
<div class="lb" style="left:249.00px;top:611.62px">Urea</div>
<div class="lb" style="left:249.00px;top:617.32px">GLB</div>
<div class="lb" style="left:249.00px;top:623.01px">Urea/Cr</div>
<div class="lb" style="left:249.00px;top:628.71px">Alb</div>
<div class="lb" style="left:249.00px;top:634.41px">TP</div>
<div class="lb" style="left:249.00px;top:640.11px">WBC</div>
<div class="lb" style="left:249.00px;top:645.81px">AST</div>
<div class="lb" style="left:249.00px;top:651.51px">MCHC</div>
<div class="lb" style="left:249.00px;top:657.21px">HDL-C</div>
<div class="lb" style="left:249.00px;top:662.91px">AST/ALT</div>
<div class="lb" style="left:249.00px;top:668.61px">Smoking</div>
<div class="lb" style="left:249.00px;top:674.31px">ALT</div>
<div class="lb" style="left:249.00px;top:680.01px">LDL-C</div>
<div class="lb" style="left:249.00px;top:685.71px">TC</div>
<div class="lb" style="left:249.00px;top:691.41px">r-GT</div>
<div class="lb" style="left:249.00px;top:697.11px">eGFB</div>
<div class="lb" style="left:249.00px;top:702.81px">Cre</div>
<div class="lb" style="left:249.00px;top:708.50px">Drinking</div>
<div class="lb" style="left:249.00px;top:714.20px">TG</div>
<div class="lb" style="left:249.00px;top:719.90px">Age</div>
<div class="lb" style="left:249.00px;top:725.60px">UA</div>
<div class="lb" style="left:249.00px;top:731.30px">RBC Count</div>
<div class="lb" style="left:249.00px;top:737.00px">Hb</div>
<div class="lb" style="left:249.00px;top:742.70px">Gender</div>
<div class="lb" style="left:249.00px;top:748.40px">BMI</div>
<div class="lb" style="left:249.00px;top:754.10px">SBP</div>
<div class="tt b" style="left:157.51px;top:589.23px;transform:scaleX(1.013)">DBP</div>
<div class="tl" style="left:288.42px;top:766.95px;font-size:10px">-0.5</div>
<div class="tl" style="left:318.59px;top:766.95px;font-size:10px">0</div>
<div class="tl" style="left:348.75px;top:766.95px;font-size:10px">0.5</div>
<div class="tl" style="left:378.50px;top:766.95px;font-size:10px">1</div>
<div class="lb" style="left:365.27px;top:587.78px">A-G ratio</div>
<div class="lb" style="left:365.27px;top:593.46px">ESR</div>
<div class="lb" style="left:365.27px;top:599.13px">Age</div>
<div class="lb" style="left:365.27px;top:604.81px">WBHSRVI</div>
<div class="lb" style="left:365.27px;top:610.49px">WBRSR(mPas_100)</div>
<div class="lb" style="left:365.27px;top:616.17px">CHE</div>
<div class="lb" style="left:365.27px;top:621.85px">WBRSR(mPas_50)</div>
<div class="lb" style="left:365.27px;top:627.52px">IgG</div>
<div class="lb" style="left:365.27px;top:633.20px">TC</div>
<div class="lb" style="left:365.27px;top:638.88px">IBIL</div>
<div class="lb" style="left:365.27px;top:644.56px">TP</div>
<div class="lb" style="left:365.27px;top:650.24px">WBC</div>
<div class="lb" style="left:365.27px;top:655.91px">RDW</div>
<div class="lb" style="left:365.27px;top:661.59px">r-GT</div>
<div class="lb" style="left:365.27px;top:667.27px">UA</div>
<div class="lb" style="left:365.27px;top:672.95px">WBRSR(mPas_5)</div>
<div class="lb" style="left:365.27px;top:678.62px">PAB</div>
<div class="lb" style="left:365.27px;top:684.30px">Hb</div>
<div class="lb" style="left:365.27px;top:689.98px">WBRSR(mPas_1)</div>
<div class="lb" style="left:365.27px;top:695.66px">RBC Count</div>
<div class="lb" style="left:365.27px;top:701.34px">Drinking</div>
<div class="lb" style="left:365.27px;top:707.01px">WBRVI</div>
<div class="lb" style="left:365.27px;top:712.69px">FT4</div>
<div class="lb" style="left:365.27px;top:718.37px">ApoB</div>
<div class="lb" style="left:365.27px;top:724.05px">TG</div>
<div class="lb" style="left:365.27px;top:729.72px">BMI</div>
<div class="lb" style="left:365.27px;top:735.40px">Alb</div>
<div class="lb" style="left:365.27px;top:741.08px">DBP</div>
<div class="lb" style="left:365.27px;top:746.76px">SBP</div>
<div class="lb" style="left:365.27px;top:752.44px">IOP-R</div>
<div class="tt b" style="left:292.02px;top:588.93px;transform:scaleX(0.998)">IOP-L</div>
<div class="tl" style="left:410.94px;top:767.37px;font-size:10px">-0.5</div>
<div class="tl" style="left:460.24px;top:767.37px;font-size:10px">0</div>
<div class="tl" style="left:509.75px;top:767.37px;font-size:10px">0.5</div>
<div class="lb" style="left:500.27px;top:589.23px">PH</div>
<div class="lb" style="left:500.27px;top:594.88px">LEU</div>
<div class="lb" style="left:500.27px;top:600.53px">Ucr</div>
<div class="lb" style="left:500.27px;top:606.18px">LDL-C</div>
<div class="lb" style="left:500.27px;top:611.83px">Age</div>
<div class="lb" style="left:500.27px;top:617.48px">Urea</div>
<div class="lb" style="left:500.27px;top:623.13px">TC</div>
<div class="lb" style="left:500.27px;top:628.78px">GLB</div>
<div class="lb" style="left:500.27px;top:634.43px">WBC</div>
<div class="lb" style="left:500.27px;top:640.08px">A-G ratio</div>
<div class="lb" style="left:500.27px;top:645.73px">PAB</div>
<div class="lb" style="left:500.27px;top:651.38px">eGFB</div>
<div class="lb" style="left:500.27px;top:657.02px">AST</div>
<div class="lb" style="left:500.27px;top:662.67px">AST/ALT</div>
<div class="lb" style="left:500.27px;top:668.32px">ALT</div>
<div class="lb" style="left:500.27px;top:673.97px">Urea/Cr</div>
<div class="lb" style="left:500.27px;top:679.62px">HDL-C</div>
<div class="lb" style="left:500.27px;top:685.27px">MCH</div>
<div class="lb" style="left:500.27px;top:690.92px">SBP</div>
<div class="lb" style="left:500.27px;top:696.57px">MCHC</div>
<div class="lb" style="left:500.27px;top:702.22px">TG</div>
<div class="lb" style="left:500.27px;top:707.87px">DBP</div>
<div class="lb" style="left:500.27px;top:713.52px">BMI</div>
<div class="lb" style="left:500.27px;top:719.16px">RBC Count</div>
<div class="lb" style="left:500.27px;top:724.81px">r-GT</div>
<div class="lb" style="left:500.27px;top:730.46px">Cre</div>
<div class="lb" style="left:500.27px;top:736.11px">UA</div>
<div class="lb" style="left:500.27px;top:741.76px">Hb</div>
<div class="lb" style="left:500.27px;top:747.41px">Smoking</div>
<div class="lb" style="left:500.27px;top:753.06px">Gender</div>
<div class="tt b" style="left:414.00px;top:589.23px;transform:scaleX(1.024)">Drinking</div>
<div class="tl" style="left:540.33px;top:768.41px;font-size:10px">-0.5</div>
<div class="tl" style="left:593.17px;top:768.41px;font-size:10px">0</div>
<div class="tl" style="left:646.01px;top:768.41px;font-size:10px">0.5</div>
<div class="lb" style="left:639.65px;top:592.35px">PLT/BPC</div>
<div class="lb" style="left:639.65px;top:597.96px">Hcy</div>
<div class="lb" style="left:639.65px;top:603.57px">TC</div>
<div class="lb" style="left:639.65px;top:609.17px">ALT</div>
<div class="lb" style="left:639.65px;top:614.78px">A-G ratio</div>
<div class="lb" style="left:639.65px;top:620.38px">LDL-C</div>
<div class="lb" style="left:639.65px;top:625.99px">eo%</div>
<div class="lb" style="left:639.65px;top:631.60px">AST/ALT</div>
<div class="lb" style="left:639.65px;top:637.20px">SBP</div>
<div class="lb" style="left:639.65px;top:642.81px">Urea/Cr</div>
<div class="lb" style="left:639.65px;top:648.41px">PH</div>
<div class="lb" style="left:639.65px;top:654.02px">MCHC</div>
<div class="lb" style="left:639.65px;top:659.63px">GLB</div>
<div class="lb" style="left:639.65px;top:665.23px">TP</div>
<div class="lb" style="left:639.65px;top:670.84px">MCH</div>
<div class="lb" style="left:639.65px;top:676.45px">DBP</div>
<div class="lb" style="left:639.65px;top:682.05px">BMI</div>
<div class="lb" style="left:639.65px;top:687.66px">RDW</div>
<div class="lb" style="left:639.65px;top:693.26px">eGFB</div>
<div class="lb" style="left:639.65px;top:698.87px">r-GT</div>
<div class="lb" style="left:639.65px;top:704.48px">HDL-C</div>
<div class="lb" style="left:639.65px;top:710.08px">RBC Count</div>
<div class="lb" style="left:639.65px;top:715.69px">TG</div>
<div class="lb" style="left:639.65px;top:721.29px">WBC</div>
<div class="lb" style="left:639.65px;top:726.90px">UA</div>
<div class="lb" style="left:639.65px;top:732.51px">Age</div>
<div class="lb" style="left:639.65px;top:738.11px">Cre</div>
<div class="lb" style="left:639.65px;top:743.72px">Hb</div>
<div class="lb" style="left:639.65px;top:749.32px">Gender</div>
<div class="lb" style="left:639.65px;top:754.93px">Drinking</div>
<div class="tt b" style="left:544.08px;top:591.98px;transform:scaleX(1.008)">Smoking</div>
<div class="tl" style="left:28.20px;top:954.27px;font-size:10.6px">-0.1</div>
<div class="tl" style="left:58.99px;top:954.27px;font-size:10.6px">0</div>
<div class="tl" style="left:90.19px;top:954.27px;font-size:10.6px">0.1</div>
<div class="tl" style="left:120.98px;top:954.27px;font-size:10.6px">0.2</div>
<div class="lb" style="left:111.29px;top:778.93px">r-GT</div>
<div class="lb" style="left:111.29px;top:784.49px">eo%</div>
<div class="lb" style="left:111.29px;top:790.05px">BMI</div>
<div class="lb" style="left:111.29px;top:795.62px">LEU</div>
<div class="lb" style="left:111.29px;top:801.18px">PG II</div>
<div class="lb" style="left:111.29px;top:806.74px">Smoking</div>
<div class="lb" style="left:111.29px;top:812.31px">ALT</div>
<div class="lb" style="left:111.29px;top:817.87px">Urea/Cr</div>
<div class="lb" style="left:111.29px;top:823.43px">DBP</div>
<div class="lb" style="left:111.29px;top:828.99px">PLT/BPC</div>
<div class="lb" style="left:111.29px;top:834.56px">TC</div>
<div class="lb" style="left:111.29px;top:840.12px">RDW</div>
<div class="lb" style="left:111.29px;top:845.68px">MCH</div>
<div class="lb" style="left:111.29px;top:851.25px">Dbil</div>
<div class="lb" style="left:111.29px;top:856.81px">KDA</div>
<div class="lb" style="left:111.29px;top:862.37px">Hb</div>
<div class="lb" style="left:111.29px;top:867.94px">BMI</div>
<div class="lb" style="left:111.29px;top:873.50px">LDL-C</div>
<div class="lb" style="left:111.29px;top:879.06px">UA</div>
<div class="lb" style="left:111.29px;top:884.63px">Urea</div>
<div class="lb" style="left:111.29px;top:890.19px">pmh</div>
<div class="lb" style="left:111.29px;top:895.75px">HBcAb</div>
<div class="lb" style="left:111.29px;top:901.32px">OT</div>
<div class="lb" style="left:111.29px;top:906.88px">Drinking</div>
<div class="lb" style="left:111.29px;top:912.44px">DH</div>
<div class="lb" style="left:111.29px;top:918.00px">Gender</div>
<div class="lb" style="left:111.29px;top:923.57px">SBP</div>
<div class="lb" style="left:111.29px;top:929.13px">Cre</div>
<div class="lb" style="left:111.29px;top:934.69px">eGFB</div>
<div class="lb" style="left:111.29px;top:940.26px">Age</div>
<div class="tt b" style="left:19.64px;top:779.93px;transform:scaleX(1.002)">e-habits</div>
<div class="tl" style="left:154.46px;top:954.27px;font-size:10.6px">-0.1</div>
<div class="tl" style="left:197.73px;top:954.27px;font-size:10.6px">0</div>
<div class="tl" style="left:240.79px;top:954.27px;font-size:10.6px">0.1</div>
<div class="lb" style="left:238.60px;top:780.17px">PG I</div>
<div class="lb" style="left:238.60px;top:785.71px">TSGF</div>
<div class="lb" style="left:238.60px;top:791.24px">TBA</div>
<div class="lb" style="left:238.60px;top:796.78px">NSE</div>
<div class="lb" style="left:238.60px;top:802.31px">CysC</div>
<div class="lb" style="left:238.60px;top:807.85px">DBP</div>
<div class="lb" style="left:238.60px;top:813.38px">Na</div>
<div class="lb" style="left:238.60px;top:818.92px">PG II</div>
<div class="lb" style="left:238.60px;top:824.45px">UA</div>
<div class="lb" style="left:238.60px;top:829.98px">CD3-CD19+(B cell)</div>
<div class="lb" style="left:238.60px;top:835.52px">CA 72-4</div>
<div class="lb" style="left:238.60px;top:841.05px">AFP</div>
<div class="lb" style="left:238.60px;top:846.59px">Hb</div>
<div class="lb" style="left:238.60px;top:852.12px">Alb</div>
<div class="lb" style="left:238.60px;top:857.66px">ADA</div>
<div class="lb" style="left:238.60px;top:863.19px">OP</div>
<div class="lb" style="left:238.60px;top:868.73px">Urea</div>
<div class="lb" style="left:238.60px;top:874.26px">TT</div>
<div class="lb" style="left:238.60px;top:879.79px">CA 242</div>
<div class="lb" style="left:238.60px;top:885.33px">Smoking</div>
<div class="lb" style="left:238.60px;top:890.86px">Gender</div>
<div class="lb" style="left:238.60px;top:896.40px">SBP</div>
<div class="lb" style="left:238.60px;top:901.93px">Hcy</div>
<div class="lb" style="left:238.60px;top:907.47px">Cre</div>
<div class="lb" style="left:238.60px;top:913.00px">PTA</div>
<div class="lb" style="left:238.60px;top:918.54px">Age</div>
<div class="lb" style="left:238.60px;top:924.07px">eGFB</div>
<div class="lb" style="left:238.60px;top:929.60px">SCC</div>
<div class="lb" style="left:238.60px;top:935.14px">C-PSA</div>
<div class="lb" style="left:238.60px;top:940.67px">NSE</div>
<div class="tt b" style="left:157.94px;top:781.13px;transform:scaleX(0.991)">CYFRA 21-1</div>
<div class="tl" style="left:289.88px;top:953.44px;font-size:10.6px">-0.2</div>
<div class="tl" style="left:332.73px;top:953.44px;font-size:10.6px">0</div>
<div class="tl" style="left:375.79px;top:953.44px;font-size:10.6px">0.2</div>
<div class="lb" style="left:370.48px;top:781.21px">CYFRA 21-1</div>
<div class="lb" style="left:370.48px;top:786.68px">MCHC</div>
<div class="lb" style="left:370.48px;top:792.14px">PT</div>
<div class="lb" style="left:370.48px;top:797.60px">Cl</div>
<div class="lb" style="left:370.48px;top:803.06px">FT4</div>
<div class="lb" style="left:370.48px;top:808.53px">AST/ALT</div>
<div class="lb" style="left:370.48px;top:813.99px">WBRVI</div>
<div class="lb" style="left:370.48px;top:819.45px">APTT</div>
<div class="lb" style="left:370.48px;top:824.92px">APU</div>
<div class="lb" style="left:370.48px;top:830.38px">ADA</div>
<div class="lb" style="left:370.48px;top:835.84px">GLB</div>
<div class="lb" style="left:370.48px;top:841.30px">ApoA1</div>
<div class="lb" style="left:370.48px;top:846.77px">HBcAb</div>
<div class="lb" style="left:370.48px;top:852.23px">Anti-CCP</div>
<div class="lb" style="left:370.48px;top:857.69px">A-G ratio</div>
<div class="lb" style="left:370.48px;top:863.16px">HDL-C</div>
<div class="lb" style="left:370.48px;top:868.62px">WBRSR(mPas_5)</div>
<div class="lb" style="left:370.48px;top:874.08px">PV</div>
<div class="lb" style="left:370.48px;top:879.54px">WBRSR(mPas_1)</div>
<div class="lb" style="left:370.48px;top:885.01px">WBRV</div>
<div class="lb" style="left:370.48px;top:890.47px">RBCAI</div>
<div class="lb" style="left:370.48px;top:895.93px">CD3+CD4+CD8+</div>
<div class="lb" style="left:370.48px;top:901.39px">ACTH</div>
<div class="lb" style="left:370.48px;top:906.86px">OP</div>
<div class="lb" style="left:370.48px;top:912.32px">Na</div>
<div class="lb" style="left:370.48px;top:917.78px">AG</div>
<div class="lb" style="left:370.48px;top:923.25px">PTA</div>
<div class="lb" style="left:370.48px;top:928.71px">IgG</div>
<div class="lb" style="left:370.48px;top:934.17px">Cor</div>
<div class="lb" style="left:370.48px;top:939.63px">TT</div>
<div class="tt b" style="left:292.36px;top:781.13px;transform:scaleX(0.987)">TSGF</div>
<div class="tl" style="left:422.38px;top:953.86px;font-size:10.6px">-0.1</div>
<div class="tl" style="left:454.21px;top:953.86px;font-size:10.6px">0</div>
<div class="tl" style="left:486.25px;top:953.86px;font-size:10.6px">0.1</div>
<div class="tl" style="left:518.07px;top:953.86px;font-size:10.6px">0.2</div>
<div class="lb" style="left:505.89px;top:783.71px">CD3-CD19+(B cell)</div>
<div class="lb" style="left:505.89px;top:789.06px">PH</div>
<div class="lb" style="left:505.89px;top:794.42px">WBRSR(mPas_50)</div>
<div class="lb" style="left:505.89px;top:799.77px">WBRSR(mPas_100)</div>
<div class="lb" style="left:505.89px;top:805.13px">AST</div>
<div class="lb" style="left:505.89px;top:810.48px">Gender</div>
<div class="lb" style="left:505.89px;top:815.84px">PG I</div>
<div class="lb" style="left:505.89px;top:821.20px">Na</div>
<div class="lb" style="left:505.89px;top:826.55px">eGFB</div>
<div class="lb" style="left:505.89px;top:831.91px">MCHC</div>
<div class="lb" style="left:505.89px;top:837.26px">APU</div>
<div class="lb" style="left:505.89px;top:842.62px">AG</div>
<div class="lb" style="left:505.89px;top:847.97px">Cre</div>
<div class="lb" style="left:505.89px;top:853.33px">CKMB</div>
<div class="lb" style="left:505.89px;top:858.68px">DBP</div>
<div class="lb" style="left:505.89px;top:864.04px">TBhCG</div>
<div class="lb" style="left:505.89px;top:869.39px">PTA</div>
<div class="lb" style="left:505.89px;top:874.75px">CEA</div>
<div class="lb" style="left:505.89px;top:880.10px">SBP</div>
<div class="lb" style="left:505.89px;top:885.46px">RBC Count</div>
<div class="lb" style="left:505.89px;top:890.81px">Hb</div>
<div class="lb" style="left:505.89px;top:896.17px">FT4</div>
<div class="lb" style="left:505.89px;top:901.52px">TBIL</div>
<div class="lb" style="left:505.89px;top:906.88px">α-HBDH</div>
<div class="lb" style="left:505.89px;top:912.23px">IBIL</div>
<div class="lb" style="left:505.89px;top:917.59px">LDH</div>
<div class="lb" style="left:505.89px;top:922.94px">C-PSA</div>
<div class="lb" style="left:505.89px;top:928.30px">CYFRA 21-1</div>
<div class="lb" style="left:505.89px;top:933.65px">CA 242</div>
<div class="lb" style="left:505.89px;top:939.01px">SCC</div>
<div class="tt b" style="left:426.52px;top:783.73px;transform:scaleX(1.004)">NSE</div>
<div class="tl" style="left:556.14px;top:953.86px;font-size:10.6px">-0.05</div>
<div class="tl" style="left:587.97px;top:953.86px;font-size:10.6px">0</div>
<div class="tl" style="left:619.59px;top:953.86px;font-size:10.6px">0.05</div>
<div class="tl" style="left:650.79px;top:953.86px;font-size:10.6px">0.1</div>
<div class="lb" style="left:650.05px;top:780.59px">Na</div>
<div class="lb" style="left:650.05px;top:786.05px">TBhCG</div>
<div class="lb" style="left:650.05px;top:791.52px">APU</div>
<div class="lb" style="left:650.05px;top:796.98px">r-GT</div>
<div class="lb" style="left:650.05px;top:802.44px">MCHC</div>
<div class="lb" style="left:650.05px;top:807.90px">OP</div>
<div class="lb" style="left:650.05px;top:813.37px">BMI</div>
<div class="lb" style="left:650.05px;top:818.83px">HDL-C</div>
<div class="lb" style="left:650.05px;top:824.29px">Urea</div>
<div class="lb" style="left:650.05px;top:829.75px">WBC</div>
<div class="lb" style="left:650.05px;top:835.22px">PAB</div>
<div class="lb" style="left:650.05px;top:840.68px">Urea/Cr</div>
<div class="lb" style="left:650.05px;top:846.14px">CEA</div>
<div class="lb" style="left:650.05px;top:851.61px">DBP</div>
<div class="lb" style="left:650.05px;top:857.07px">P</div>
<div class="lb" style="left:650.05px;top:862.53px">Drinking</div>
<div class="lb" style="left:650.05px;top:867.99px">Smoking</div>
<div class="lb" style="left:650.05px;top:873.46px">Hcy</div>
<div class="lb" style="left:650.05px;top:878.92px">SBP</div>
<div class="lb" style="left:650.05px;top:884.38px">RBC Count</div>
<div class="lb" style="left:650.05px;top:889.85px">UA</div>
<div class="lb" style="left:650.05px;top:895.31px">Hb</div>
<div class="lb" style="left:650.05px;top:900.77px">CA 72-4</div>
<div class="lb" style="left:650.05px;top:906.23px">Age</div>
<div class="lb" style="left:650.05px;top:911.70px">eGFB</div>
<div class="lb" style="left:650.05px;top:917.16px">Cre</div>
<div class="lb" style="left:650.05px;top:922.62px">Gender</div>
<div class="lb" style="left:650.05px;top:928.08px">SCC</div>
<div class="lb" style="left:650.05px;top:933.55px">NSE</div>
<div class="lb" style="left:650.05px;top:939.01px">CYFRA 21-1</div>
<div class="tt b" style="left:565.83px;top:782.18px;transform:scaleX(1.013)">C-PSA</div>
</body></html>
